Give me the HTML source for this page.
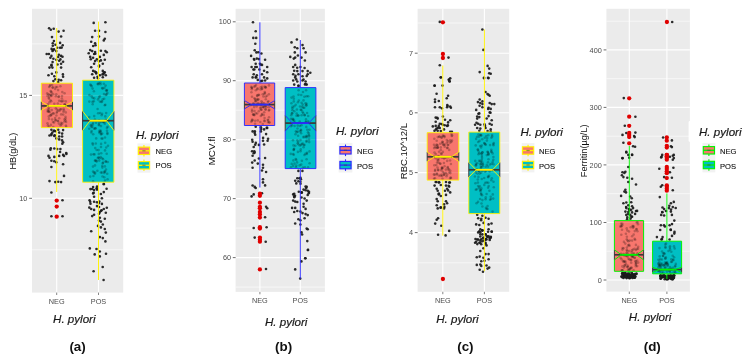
<!DOCTYPE html>
<html><head><meta charset="utf-8"><title>H. pylori boxplots</title>
<style>
html,body{margin:0;padding:0;background:#fff;}
body{width:747px;height:361px;overflow:hidden;font-family:"Liberation Sans",sans-serif;}
svg{display:block;filter:blur(0.35px);}
svg text{font-family:"Liberation Sans",sans-serif;}
.tk{font-size:7.3px;fill:#4d4d4d;}
.lg{font-size:7.6px;fill:#111;stroke:#111;stroke-width:0.12px;}
.yt{fill:#111;}
.xt{font-size:11.6px;font-style:italic;fill:#1a1a1a;stroke:#1a1a1a;stroke-width:0.2px;}
.cap{font-size:13.4px;font-weight:bold;fill:#111;}
</style></head>
<body>
<svg width="747" height="361" viewBox="0 0 747 361">
<rect width="747" height="361" fill="#fff"/>
<rect x="32" y="8.8" width="91.2" height="283.8" fill="#EBEBEB"/>
<line x1="32" x2="123.2" y1="43.9" y2="43.9" stroke="#FFFFFF" stroke-width="0.6"/>
<line x1="32" x2="123.2" y1="146.8" y2="146.8" stroke="#FFFFFF" stroke-width="0.6"/>
<line x1="32" x2="123.2" y1="249.8" y2="249.8" stroke="#FFFFFF" stroke-width="0.6"/>
<line x1="32" x2="123.2" y1="95.4" y2="95.4" stroke="#FFFFFF" stroke-width="1.1"/>
<line x1="32" x2="123.2" y1="198.3" y2="198.3" stroke="#FFFFFF" stroke-width="1.1"/>
<line x1="56.7" x2="56.7" y1="8.8" y2="292.6" stroke="#FFFFFF" stroke-width="1.1"/>
<line x1="98.5" x2="98.5" y1="8.8" y2="292.6" stroke="#FFFFFF" stroke-width="1.1"/>
<line x1="29.2" x2="32" y1="95.4" y2="95.4" stroke="#555" stroke-width="0.85"/>
<text x="27.4" y="98.0" text-anchor="end" class="tk">15</text>
<line x1="29.2" x2="32" y1="198.3" y2="198.3" stroke="#555" stroke-width="0.85"/>
<text x="27.4" y="200.9" text-anchor="end" class="tk">10</text>
<line x1="56.7" x2="56.7" y1="292.6" y2="295.0" stroke="#666" stroke-width="0.8"/>
<text x="56.7" y="303.6" text-anchor="middle" class="tk">NEG</text>
<line x1="98.5" x2="98.5" y1="292.6" y2="295.0" stroke="#666" stroke-width="0.8"/>
<text x="98.5" y="303.6" text-anchor="middle" class="tk">POS</text>
<text transform="translate(15.6,151.2) rotate(-90)" text-anchor="middle" class="yt" style="font-size:9.2px">HB(g/dL)</text>
<text x="74.3" y="322.8" text-anchor="middle" class="xt">H. pylori</text>
<text x="77.6" y="351.1" text-anchor="middle" class="cap">(a)</text>
<g fill="#1a1a1a" fill-opacity="0.92">
<circle cx="49.1" cy="28.3" r="1.3"/><circle cx="50.8" cy="29.7" r="1.3"/><circle cx="53.7" cy="28.7" r="1.3"/><circle cx="58.6" cy="31.6" r="1.3"/><circle cx="63.6" cy="30.7" r="1.3"/><circle cx="52.0" cy="37.1" r="1.3"/><circle cx="61.1" cy="36.5" r="1.3"/><circle cx="53.9" cy="41.0" r="1.3"/><circle cx="60.1" cy="42.9" r="1.3"/><circle cx="62.7" cy="45.2" r="1.3"/><circle cx="52.8" cy="45.8" r="1.3"/><circle cx="57.2" cy="47.8" r="1.3"/><circle cx="60.1" cy="47.8" r="1.3"/><circle cx="53.4" cy="50.1" r="1.3"/><circle cx="56.3" cy="51.1" r="1.3"/><circle cx="48.9" cy="54.0" r="1.3"/><circle cx="51.4" cy="55.9" r="1.3"/><circle cx="61.1" cy="55.9" r="1.3"/><circle cx="58.2" cy="56.9" r="1.3"/><circle cx="50.4" cy="57.8" r="1.3"/><circle cx="53.4" cy="58.8" r="1.3"/><circle cx="56.3" cy="59.8" r="1.3"/><circle cx="59.2" cy="60.8" r="1.3"/><circle cx="63.1" cy="61.7" r="1.3"/><circle cx="61.1" cy="63.7" r="1.3"/><circle cx="51.4" cy="65.6" r="1.3"/><circle cx="49.5" cy="67.6" r="1.3"/><circle cx="52.4" cy="67.6" r="1.3"/><circle cx="61.1" cy="67.6" r="1.3"/><circle cx="56.3" cy="72.4" r="1.3"/><circle cx="48.5" cy="75.3" r="1.3"/><circle cx="54.3" cy="76.3" r="1.3"/><circle cx="63.1" cy="76.7" r="1.3"/><circle cx="55.3" cy="79.2" r="1.3"/><circle cx="53.4" cy="81.1" r="1.3"/><circle cx="61.1" cy="80.2" r="1.3"/><circle cx="58.2" cy="82.1" r="1.3"/><circle cx="93.7" cy="22.9" r="1.3"/><circle cx="105.4" cy="22.3" r="1.3"/><circle cx="95.1" cy="30.7" r="1.3"/><circle cx="99.0" cy="30.7" r="1.3"/><circle cx="105.4" cy="32.0" r="1.3"/><circle cx="92.2" cy="37.1" r="1.3"/><circle cx="99.0" cy="36.5" r="1.3"/><circle cx="104.8" cy="38.8" r="1.3"/><circle cx="103.8" cy="40.4" r="1.3"/><circle cx="91.2" cy="41.7" r="1.3"/><circle cx="95.1" cy="43.3" r="1.3"/><circle cx="95.5" cy="45.2" r="1.3"/><circle cx="90.2" cy="50.1" r="1.3"/><circle cx="92.2" cy="51.1" r="1.3"/><circle cx="95.1" cy="52.0" r="1.3"/><circle cx="100.9" cy="50.7" r="1.3"/><circle cx="105.4" cy="51.1" r="1.3"/><circle cx="94.1" cy="54.0" r="1.3"/><circle cx="103.8" cy="54.9" r="1.3"/><circle cx="90.2" cy="56.9" r="1.3"/><circle cx="93.1" cy="57.8" r="1.3"/><circle cx="99.9" cy="56.9" r="1.3"/><circle cx="95.1" cy="61.1" r="1.3"/><circle cx="100.9" cy="60.4" r="1.3"/><circle cx="104.8" cy="59.8" r="1.3"/><circle cx="94.1" cy="63.7" r="1.3"/><circle cx="102.8" cy="63.7" r="1.3"/><circle cx="91.2" cy="67.2" r="1.3"/><circle cx="99.0" cy="66.6" r="1.3"/><circle cx="93.1" cy="70.9" r="1.3"/><circle cx="96.1" cy="72.4" r="1.3"/><circle cx="102.8" cy="70.9" r="1.3"/><circle cx="104.8" cy="72.4" r="1.3"/><circle cx="92.2" cy="74.3" r="1.3"/><circle cx="99.9" cy="75.3" r="1.3"/><circle cx="105.8" cy="75.3" r="1.3"/><circle cx="94.1" cy="77.8" r="1.3"/><circle cx="98.0" cy="78.2" r="1.3"/><circle cx="102.8" cy="77.3" r="1.3"/><circle cx="51.4" cy="129.7" r="1.3"/><circle cx="54.3" cy="130.7" r="1.3"/><circle cx="58.2" cy="129.7" r="1.3"/><circle cx="63.1" cy="130.1" r="1.3"/><circle cx="52.4" cy="132.6" r="1.3"/><circle cx="59.2" cy="132.6" r="1.3"/><circle cx="62.1" cy="133.6" r="1.3"/><circle cx="49.5" cy="135.5" r="1.3"/><circle cx="51.4" cy="135.1" r="1.3"/><circle cx="54.3" cy="135.9" r="1.3"/><circle cx="59.2" cy="136.5" r="1.3"/><circle cx="62.1" cy="136.5" r="1.3"/><circle cx="56.3" cy="138.4" r="1.3"/><circle cx="59.2" cy="139.4" r="1.3"/><circle cx="62.1" cy="140.4" r="1.3"/><circle cx="63.1" cy="142.3" r="1.3"/><circle cx="50.4" cy="149.7" r="1.3"/><circle cx="57.2" cy="149.1" r="1.3"/><circle cx="60.1" cy="152.0" r="1.3"/><circle cx="48.5" cy="155.9" r="1.3"/><circle cx="49.5" cy="157.8" r="1.3"/><circle cx="54.3" cy="156.9" r="1.3"/><circle cx="59.2" cy="155.9" r="1.3"/><circle cx="63.1" cy="154.9" r="1.3"/><circle cx="64.0" cy="155.9" r="1.3"/><circle cx="51.4" cy="160.8" r="1.3"/><circle cx="54.3" cy="161.3" r="1.3"/><circle cx="56.3" cy="162.3" r="1.3"/><circle cx="63.1" cy="164.3" r="1.3"/><circle cx="51.4" cy="167.0" r="1.3"/><circle cx="64.0" cy="175.9" r="1.3"/><circle cx="49.5" cy="181.1" r="1.3"/><circle cx="55.3" cy="182.1" r="1.3"/><circle cx="58.2" cy="181.7" r="1.3"/><circle cx="61.1" cy="182.1" r="1.3"/><circle cx="51.4" cy="192.5" r="1.3"/><circle cx="62.5" cy="200.2" r="1.3"/><circle cx="51.4" cy="216.3" r="1.3"/><circle cx="62.5" cy="216.3" r="1.3"/><circle cx="103.8" cy="183.7" r="1.3"/><circle cx="93.1" cy="187.0" r="1.3"/><circle cx="97.0" cy="186.6" r="1.3"/><circle cx="92.2" cy="189.0" r="1.3"/><circle cx="94.1" cy="190.1" r="1.3"/><circle cx="97.0" cy="189.6" r="1.3"/><circle cx="103.8" cy="192.1" r="1.3"/><circle cx="100.9" cy="194.0" r="1.3"/><circle cx="93.1" cy="193.4" r="1.3"/><circle cx="94.1" cy="196.7" r="1.3"/><circle cx="101.9" cy="198.3" r="1.3"/><circle cx="89.6" cy="200.2" r="1.3"/><circle cx="90.2" cy="201.8" r="1.3"/><circle cx="94.1" cy="201.8" r="1.3"/><circle cx="97.0" cy="202.2" r="1.3"/><circle cx="99.0" cy="203.1" r="1.3"/><circle cx="89.3" cy="207.6" r="1.3"/><circle cx="91.2" cy="209.0" r="1.3"/><circle cx="94.1" cy="209.9" r="1.3"/><circle cx="97.0" cy="206.1" r="1.3"/><circle cx="99.0" cy="207.0" r="1.3"/><circle cx="103.8" cy="209.0" r="1.3"/><circle cx="100.9" cy="210.9" r="1.3"/><circle cx="105.8" cy="212.8" r="1.3"/><circle cx="99.0" cy="213.8" r="1.3"/><circle cx="94.1" cy="214.8" r="1.3"/><circle cx="92.2" cy="216.1" r="1.3"/><circle cx="99.9" cy="217.7" r="1.3"/><circle cx="104.8" cy="218.7" r="1.3"/><circle cx="99.0" cy="220.6" r="1.3"/><circle cx="100.9" cy="221.6" r="1.3"/><circle cx="102.8" cy="224.5" r="1.3"/><circle cx="98.0" cy="225.9" r="1.3"/><circle cx="100.9" cy="227.4" r="1.3"/><circle cx="104.8" cy="229.0" r="1.3"/><circle cx="91.2" cy="231.3" r="1.3"/><circle cx="105.8" cy="232.6" r="1.3"/><circle cx="99.9" cy="237.1" r="1.3"/><circle cx="102.8" cy="238.1" r="1.3"/><circle cx="105.4" cy="241.4" r="1.3"/><circle cx="106.0" cy="253.7" r="1.3"/><circle cx="94.7" cy="254.4" r="1.3"/><circle cx="99.8" cy="256.4" r="1.3"/><circle cx="102.7" cy="267.0" r="1.3"/><circle cx="93.6" cy="271.2" r="1.3"/><circle cx="103.6" cy="280.0" r="1.3"/><circle cx="89.8" cy="248.4" r="1.3"/><circle cx="96.5" cy="249.0" r="1.3"/><circle cx="99.8" cy="251.5" r="1.3"/><circle cx="61.7" cy="47.6" r="1.3"/><circle cx="52.8" cy="43.3" r="1.3"/><circle cx="52.5" cy="50.9" r="1.3"/><circle cx="55.5" cy="44.7" r="1.3"/><circle cx="51.6" cy="48.9" r="1.3"/><circle cx="54.0" cy="49.2" r="1.3"/><circle cx="46.7" cy="54.0" r="1.3"/><circle cx="62.5" cy="56.8" r="1.3"/><circle cx="58.9" cy="54.7" r="1.3"/><circle cx="52.6" cy="62.1" r="1.3"/><circle cx="60.4" cy="59.4" r="1.3"/><circle cx="57.5" cy="64.5" r="1.3"/><circle cx="51.5" cy="64.9" r="1.3"/><circle cx="51.9" cy="73.8" r="1.3"/><circle cx="62.9" cy="74.4" r="1.3"/><circle cx="58.7" cy="79.8" r="1.3"/><circle cx="93.2" cy="46.0" r="1.3"/><circle cx="88.7" cy="53.3" r="1.3"/><circle cx="95.3" cy="53.8" r="1.3"/><circle cx="106.8" cy="52.3" r="1.3"/><circle cx="90.8" cy="59.2" r="1.3"/><circle cx="96.8" cy="59.4" r="1.3"/><circle cx="99.0" cy="61.3" r="1.3"/><circle cx="99.1" cy="65.6" r="1.3"/><circle cx="94.8" cy="71.6" r="1.3"/><circle cx="103.9" cy="72.6" r="1.3"/><circle cx="96.2" cy="73.4" r="1.3"/><circle cx="103.6" cy="74.1" r="1.3"/><circle cx="97.5" cy="76.7" r="1.3"/><circle cx="102.5" cy="74.4" r="1.3"/><circle cx="55.2" cy="131.3" r="1.3"/><circle cx="53.8" cy="130.7" r="1.3"/><circle cx="51.4" cy="134.1" r="1.3"/><circle cx="54.7" cy="135.4" r="1.3"/><circle cx="62.3" cy="143.8" r="1.3"/><circle cx="50.8" cy="148.2" r="1.3"/><circle cx="54.3" cy="148.5" r="1.3"/><circle cx="60.4" cy="149.1" r="1.3"/><circle cx="66.4" cy="153.9" r="1.3"/><circle cx="66.2" cy="153.1" r="1.3"/><circle cx="103.8" cy="184.2" r="1.3"/><circle cx="96.6" cy="188.3" r="1.3"/><circle cx="90.4" cy="189.1" r="1.3"/><circle cx="93.7" cy="192.7" r="1.3"/><circle cx="106.6" cy="188.7" r="1.3"/><circle cx="101.9" cy="203.9" r="1.3"/><circle cx="99.3" cy="201.6" r="1.3"/><circle cx="90.5" cy="203.7" r="1.3"/><circle cx="99.6" cy="212.4" r="1.3"/><circle cx="106.8" cy="207.8" r="1.3"/><circle cx="101.7" cy="210.3" r="1.3"/>
</g>
<g fill="#e00000">
<circle cx="56.7" cy="200.6" r="2.15"/><circle cx="56.7" cy="206.6" r="2.15"/><circle cx="56.7" cy="216.7" r="2.15"/>
</g>
<line x1="56.7" x2="56.7" y1="28.0" y2="83.2" stroke="#FFF200" stroke-width="0.95"/>
<line x1="56.7" x2="56.7" y1="127.6" y2="192.0" stroke="#FFF200" stroke-width="0.95"/>
<rect x="41.3" y="83.2" width="31.2" height="44.4" fill="#F8766D"/>
<path d="M41.3,101.6 V110.4 M72.5,101.6 V110.4" fill="none" stroke="#3a3a3a" stroke-width="1"/>
<line x1="41.3" x2="72.5" y1="95.4" y2="95.4" stroke="#fff" stroke-opacity="0.12" stroke-width="1.1"/>
<line x1="98.5" x2="98.5" y1="21.6" y2="80.2" stroke="#FFF200" stroke-width="0.95"/>
<line x1="98.5" x2="98.5" y1="182.2" y2="280.0" stroke="#FFF200" stroke-width="0.95"/>
<rect x="82.6" y="80.2" width="31.3" height="102.0" fill="#00BFC4"/>
<path d="M82.6,111.1 V130.5 M113.9,111.1 V130.5" fill="none" stroke="#3a3a3a" stroke-width="1"/>
<line x1="82.6" x2="113.9" y1="95.4" y2="95.4" stroke="#fff" stroke-opacity="0.12" stroke-width="1.1"/>
<g fill="#000" fill-opacity="0.23">
<circle cx="55.8" cy="108.3" r="1.3"/><circle cx="64.8" cy="104.3" r="1.3"/><circle cx="56.8" cy="109.5" r="1.3"/><circle cx="50.7" cy="106.3" r="1.3"/><circle cx="59.2" cy="118.2" r="1.3"/><circle cx="49.0" cy="97.4" r="1.3"/><circle cx="48.9" cy="118.9" r="1.3"/><circle cx="60.4" cy="86.3" r="1.3"/><circle cx="65.9" cy="125.5" r="1.3"/><circle cx="59.6" cy="110.7" r="1.3"/><circle cx="50.2" cy="85.1" r="1.3"/><circle cx="57.2" cy="87.0" r="1.3"/><circle cx="50.8" cy="94.8" r="1.3"/><circle cx="47.8" cy="104.2" r="1.3"/><circle cx="55.6" cy="120.3" r="1.3"/><circle cx="57.1" cy="111.7" r="1.3"/><circle cx="56.7" cy="112.7" r="1.3"/><circle cx="55.9" cy="96.3" r="1.3"/><circle cx="66.2" cy="126.8" r="1.3"/><circle cx="63.2" cy="114.6" r="1.3"/><circle cx="53.2" cy="94.3" r="1.3"/><circle cx="52.7" cy="87.5" r="1.3"/><circle cx="61.8" cy="101.5" r="1.3"/><circle cx="63.3" cy="100.9" r="1.3"/><circle cx="65.4" cy="120.5" r="1.3"/><circle cx="47.2" cy="93.4" r="1.3"/><circle cx="64.5" cy="104.5" r="1.3"/><circle cx="65.8" cy="101.4" r="1.3"/><circle cx="48.6" cy="111.3" r="1.3"/><circle cx="62.0" cy="96.0" r="1.3"/><circle cx="48.9" cy="98.6" r="1.3"/><circle cx="65.5" cy="116.7" r="1.3"/><circle cx="49.4" cy="95.0" r="1.3"/><circle cx="49.1" cy="87.0" r="1.3"/><circle cx="62.3" cy="92.1" r="1.3"/><circle cx="57.8" cy="103.5" r="1.3"/><circle cx="50.8" cy="115.6" r="1.3"/><circle cx="49.7" cy="111.9" r="1.3"/><circle cx="49.4" cy="102.4" r="1.3"/><circle cx="51.2" cy="96.0" r="1.3"/><circle cx="65.6" cy="118.6" r="1.3"/><circle cx="53.0" cy="122.1" r="1.3"/><circle cx="51.2" cy="101.3" r="1.3"/><circle cx="63.4" cy="111.8" r="1.3"/><circle cx="49.1" cy="126.5" r="1.3"/><circle cx="51.3" cy="95.5" r="1.3"/><circle cx="61.9" cy="98.5" r="1.3"/><circle cx="52.8" cy="87.6" r="1.3"/><circle cx="48.9" cy="109.3" r="1.3"/><circle cx="51.8" cy="110.1" r="1.3"/><circle cx="54.3" cy="103.8" r="1.3"/><circle cx="65.4" cy="105.1" r="1.3"/><circle cx="58.1" cy="121.3" r="1.3"/><circle cx="50.7" cy="91.1" r="1.3"/><circle cx="64.5" cy="119.3" r="1.3"/><circle cx="51.9" cy="92.6" r="1.3"/><circle cx="61.2" cy="124.5" r="1.3"/><circle cx="50.9" cy="124.9" r="1.3"/><circle cx="64.0" cy="110.2" r="1.3"/><circle cx="55.2" cy="88.9" r="1.3"/><circle cx="47.9" cy="125.4" r="1.3"/><circle cx="51.7" cy="114.4" r="1.3"/><circle cx="52.1" cy="119.5" r="1.3"/><circle cx="58.5" cy="97.0" r="1.3"/><circle cx="50.5" cy="115.1" r="1.3"/><circle cx="48.5" cy="94.2" r="1.3"/><circle cx="57.8" cy="120.7" r="1.3"/><circle cx="58.9" cy="96.4" r="1.3"/><circle cx="64.6" cy="93.2" r="1.3"/><circle cx="47.5" cy="95.9" r="1.3"/><circle cx="55.7" cy="87.1" r="1.3"/><circle cx="50.5" cy="100.2" r="1.3"/><circle cx="58.1" cy="90.1" r="1.3"/><circle cx="54.1" cy="122.4" r="1.3"/><circle cx="65.8" cy="112.4" r="1.3"/><circle cx="60.3" cy="109.3" r="1.3"/><circle cx="49.9" cy="86.0" r="1.3"/><circle cx="47.5" cy="123.2" r="1.3"/><circle cx="60.5" cy="125.4" r="1.3"/><circle cx="47.6" cy="111.5" r="1.3"/><circle cx="56.4" cy="115.5" r="1.3"/><circle cx="53.3" cy="127.0" r="1.3"/><circle cx="48.6" cy="107.7" r="1.3"/><circle cx="61.2" cy="122.8" r="1.3"/><circle cx="61.2" cy="114.4" r="1.3"/><circle cx="62.3" cy="123.4" r="1.3"/><circle cx="53.9" cy="113.6" r="1.3"/><circle cx="64.3" cy="121.5" r="1.3"/><circle cx="55.1" cy="118.1" r="1.3"/><circle cx="63.6" cy="108.8" r="1.3"/><circle cx="59.1" cy="100.7" r="1.3"/><circle cx="58.3" cy="110.4" r="1.3"/><circle cx="48.7" cy="111.7" r="1.3"/><circle cx="66.1" cy="121.9" r="1.3"/><circle cx="61.0" cy="101.0" r="1.3"/><circle cx="61.2" cy="109.2" r="1.3"/><circle cx="55.6" cy="120.1" r="1.3"/><circle cx="48.8" cy="116.4" r="1.3"/><circle cx="47.8" cy="110.1" r="1.3"/><circle cx="56.3" cy="94.3" r="1.3"/><circle cx="60.5" cy="105.6" r="1.3"/><circle cx="58.9" cy="123.6" r="1.3"/><circle cx="52.1" cy="85.0" r="1.3"/><circle cx="52.9" cy="113.3" r="1.3"/><circle cx="51.0" cy="91.7" r="1.3"/><circle cx="106.2" cy="147.5" r="1.3"/><circle cx="97.4" cy="170.7" r="1.3"/><circle cx="95.2" cy="148.1" r="1.3"/><circle cx="92.8" cy="124.6" r="1.3"/><circle cx="104.3" cy="172.9" r="1.3"/><circle cx="105.7" cy="119.9" r="1.3"/><circle cx="100.1" cy="113.1" r="1.3"/><circle cx="91.6" cy="131.1" r="1.3"/><circle cx="104.9" cy="166.4" r="1.3"/><circle cx="102.5" cy="176.5" r="1.3"/><circle cx="94.3" cy="98.4" r="1.3"/><circle cx="97.6" cy="109.0" r="1.3"/><circle cx="93.1" cy="122.9" r="1.3"/><circle cx="100.9" cy="130.9" r="1.3"/><circle cx="95.0" cy="165.4" r="1.3"/><circle cx="107.7" cy="126.7" r="1.3"/><circle cx="90.4" cy="84.6" r="1.3"/><circle cx="105.6" cy="85.6" r="1.3"/><circle cx="102.5" cy="138.6" r="1.3"/><circle cx="94.9" cy="160.7" r="1.3"/><circle cx="89.4" cy="95.1" r="1.3"/><circle cx="97.6" cy="84.0" r="1.3"/><circle cx="104.8" cy="105.2" r="1.3"/><circle cx="91.7" cy="86.2" r="1.3"/><circle cx="101.0" cy="126.1" r="1.3"/><circle cx="101.0" cy="147.0" r="1.3"/><circle cx="104.3" cy="177.3" r="1.3"/><circle cx="102.0" cy="101.4" r="1.3"/><circle cx="98.0" cy="99.4" r="1.3"/><circle cx="89.2" cy="128.7" r="1.3"/><circle cx="102.6" cy="99.4" r="1.3"/><circle cx="94.2" cy="116.1" r="1.3"/><circle cx="102.2" cy="133.5" r="1.3"/><circle cx="100.7" cy="157.1" r="1.3"/><circle cx="96.5" cy="160.7" r="1.3"/><circle cx="106.2" cy="90.2" r="1.3"/><circle cx="106.7" cy="153.7" r="1.3"/><circle cx="91.5" cy="126.9" r="1.3"/><circle cx="100.9" cy="172.5" r="1.3"/><circle cx="96.2" cy="138.4" r="1.3"/><circle cx="105.7" cy="161.2" r="1.3"/><circle cx="106.9" cy="127.9" r="1.3"/><circle cx="101.4" cy="102.0" r="1.3"/><circle cx="102.7" cy="163.3" r="1.3"/><circle cx="101.2" cy="153.3" r="1.3"/><circle cx="93.1" cy="171.5" r="1.3"/><circle cx="107.6" cy="179.2" r="1.3"/><circle cx="99.2" cy="160.6" r="1.3"/><circle cx="95.1" cy="172.5" r="1.3"/><circle cx="105.3" cy="116.4" r="1.3"/><circle cx="90.6" cy="125.6" r="1.3"/><circle cx="99.5" cy="158.3" r="1.3"/><circle cx="98.3" cy="84.3" r="1.3"/><circle cx="104.4" cy="87.9" r="1.3"/><circle cx="104.2" cy="98.8" r="1.3"/><circle cx="95.4" cy="160.3" r="1.3"/><circle cx="91.7" cy="96.4" r="1.3"/><circle cx="98.8" cy="153.9" r="1.3"/><circle cx="105.0" cy="150.4" r="1.3"/><circle cx="107.0" cy="130.8" r="1.3"/><circle cx="107.0" cy="90.1" r="1.3"/><circle cx="93.2" cy="134.2" r="1.3"/><circle cx="94.5" cy="154.4" r="1.3"/><circle cx="101.1" cy="133.8" r="1.3"/><circle cx="105.0" cy="137.5" r="1.3"/><circle cx="94.9" cy="119.6" r="1.3"/><circle cx="105.1" cy="171.6" r="1.3"/><circle cx="93.0" cy="166.6" r="1.3"/><circle cx="107.4" cy="133.9" r="1.3"/><circle cx="99.9" cy="101.6" r="1.3"/><circle cx="99.2" cy="131.8" r="1.3"/><circle cx="100.5" cy="84.3" r="1.3"/><circle cx="107.4" cy="133.1" r="1.3"/><circle cx="96.6" cy="161.6" r="1.3"/><circle cx="99.7" cy="130.6" r="1.3"/><circle cx="102.1" cy="88.1" r="1.3"/><circle cx="99.2" cy="122.9" r="1.3"/><circle cx="107.2" cy="173.8" r="1.3"/><circle cx="94.1" cy="128.8" r="1.3"/><circle cx="91.4" cy="124.9" r="1.3"/><circle cx="104.5" cy="171.6" r="1.3"/><circle cx="98.1" cy="113.2" r="1.3"/><circle cx="92.6" cy="143.3" r="1.3"/><circle cx="106.6" cy="94.4" r="1.3"/><circle cx="103.8" cy="83.8" r="1.3"/><circle cx="92.7" cy="104.2" r="1.3"/><circle cx="102.1" cy="113.7" r="1.3"/><circle cx="95.8" cy="143.5" r="1.3"/><circle cx="91.0" cy="154.6" r="1.3"/><circle cx="91.3" cy="132.5" r="1.3"/><circle cx="93.8" cy="101.3" r="1.3"/><circle cx="99.1" cy="125.2" r="1.3"/><circle cx="96.1" cy="122.8" r="1.3"/><circle cx="99.1" cy="97.5" r="1.3"/><circle cx="92.9" cy="144.6" r="1.3"/><circle cx="101.1" cy="134.5" r="1.3"/><circle cx="105.2" cy="142.7" r="1.3"/><circle cx="105.3" cy="104.8" r="1.3"/><circle cx="103.1" cy="162.6" r="1.3"/><circle cx="106.2" cy="113.1" r="1.3"/><circle cx="95.0" cy="173.8" r="1.3"/><circle cx="93.1" cy="181.3" r="1.3"/><circle cx="105.9" cy="94.9" r="1.3"/><circle cx="93.5" cy="154.2" r="1.3"/><circle cx="93.9" cy="91.2" r="1.3"/><circle cx="104.8" cy="123.7" r="1.3"/><circle cx="104.0" cy="94.1" r="1.3"/><circle cx="96.7" cy="150.0" r="1.3"/><circle cx="89.3" cy="101.6" r="1.3"/><circle cx="102.0" cy="172.6" r="1.3"/><circle cx="107.4" cy="93.0" r="1.3"/><circle cx="98.6" cy="157.3" r="1.3"/><circle cx="98.6" cy="150.1" r="1.3"/><circle cx="92.6" cy="88.6" r="1.3"/><circle cx="91.0" cy="85.2" r="1.3"/><circle cx="99.5" cy="133.0" r="1.3"/><circle cx="99.8" cy="96.2" r="1.3"/><circle cx="92.5" cy="101.9" r="1.3"/><circle cx="105.0" cy="180.5" r="1.3"/><circle cx="106.6" cy="91.0" r="1.3"/><circle cx="90.2" cy="176.6" r="1.3"/><circle cx="97.8" cy="158.0" r="1.3"/><circle cx="95.2" cy="128.2" r="1.3"/><circle cx="98.8" cy="124.5" r="1.3"/><circle cx="100.4" cy="82.8" r="1.3"/><circle cx="102.3" cy="165.9" r="1.3"/><circle cx="92.4" cy="126.9" r="1.3"/><circle cx="103.0" cy="122.0" r="1.3"/><circle cx="92.7" cy="98.0" r="1.3"/><circle cx="98.7" cy="83.0" r="1.3"/><circle cx="106.0" cy="161.7" r="1.3"/><circle cx="102.4" cy="167.6" r="1.3"/><circle cx="101.0" cy="122.0" r="1.3"/><circle cx="100.4" cy="131.9" r="1.3"/><circle cx="107.7" cy="162.0" r="1.3"/><circle cx="93.9" cy="172.6" r="1.3"/><circle cx="103.1" cy="159.3" r="1.3"/><circle cx="104.5" cy="122.1" r="1.3"/><circle cx="106.0" cy="169.5" r="1.3"/><circle cx="102.2" cy="158.2" r="1.3"/><circle cx="103.5" cy="122.1" r="1.3"/><circle cx="102.7" cy="88.6" r="1.3"/><circle cx="95.5" cy="128.4" r="1.3"/><circle cx="89.2" cy="117.1" r="1.3"/><circle cx="101.1" cy="143.9" r="1.3"/><circle cx="93.4" cy="176.0" r="1.3"/><circle cx="101.7" cy="115.3" r="1.3"/><circle cx="101.5" cy="138.5" r="1.3"/><circle cx="99.1" cy="120.5" r="1.3"/><circle cx="108.0" cy="145.7" r="1.3"/>
</g>
<line x1="41.3" x2="72.5" y1="105.9" y2="105.9" stroke="#3a3a3a" stroke-width="1.7"/>
<path d="M41.3,83.2 L72.5,83.2 L72.5,101.6 L65.2,105.9 L72.5,110.4 L72.5,127.6 L41.3,127.6 L41.3,110.4 L48.6,105.9 L41.3,101.6 Z" fill="none" stroke="#FFF200" stroke-width="0.9" stroke-linejoin="miter"/>
<line x1="48.6" x2="65.2" y1="105.9" y2="105.9" stroke="#FFF200" stroke-width="1.9"/>
<line x1="82.6" x2="113.9" y1="120.7" y2="120.7" stroke="#3a3a3a" stroke-width="1.7"/>
<path d="M82.6,80.2 L113.9,80.2 L113.9,111.1 L106.5,120.7 L113.9,130.5 L113.9,182.2 L82.6,182.2 L82.6,130.5 L90.0,120.7 L82.6,111.1 Z" fill="none" stroke="#FFF200" stroke-width="0.9" stroke-linejoin="miter"/>
<line x1="90.0" x2="106.5" y1="120.7" y2="120.7" stroke="#FFF200" stroke-width="1.9"/>
<text x="136" y="138.7" class="xt">H. pylori</text>
<rect x="137.5" y="143.4" width="12.9" height="29.3" fill="#F2F2F2"/>
<line x1="143.95" x2="143.95" y1="145.0" y2="156.60000000000002" stroke="#FFF200" stroke-width="1.1"/>
<rect x="138.35" y="147.10000000000002" width="11.2" height="7.4" fill="#F8766D" stroke="#FFF200" stroke-width="1.15"/>
<line x1="138.35" x2="149.54999999999998" y1="150.8" y2="150.8" stroke="#FFF200" stroke-width="1.3"/>
<line x1="142.35" x2="145.54999999999998" y1="150.8" y2="150.8" stroke="#444" stroke-opacity="0.55" stroke-width="1.2"/>
<text x="155.6" y="154.1" class="lg">NEG</text>
<line x1="143.95" x2="143.95" y1="159.5" y2="171.10000000000002" stroke="#FFF200" stroke-width="1.1"/>
<rect x="138.35" y="161.60000000000002" width="11.2" height="7.4" fill="#00BFC4" stroke="#FFF200" stroke-width="1.15"/>
<line x1="138.35" x2="149.54999999999998" y1="165.3" y2="165.3" stroke="#FFF200" stroke-width="1.3"/>
<line x1="142.35" x2="145.54999999999998" y1="165.3" y2="165.3" stroke="#444" stroke-opacity="0.55" stroke-width="1.2"/>
<text x="155.6" y="168.3" class="lg">POS</text>
<rect x="235.6" y="8.8" width="89.3" height="283.1" fill="#EBEBEB"/>
<line x1="235.6" x2="324.9" y1="51.2" y2="51.2" stroke="#FFFFFF" stroke-width="0.6"/>
<line x1="235.6" x2="324.9" y1="110.2" y2="110.2" stroke="#FFFFFF" stroke-width="0.6"/>
<line x1="235.6" x2="324.9" y1="169.1" y2="169.1" stroke="#FFFFFF" stroke-width="0.6"/>
<line x1="235.6" x2="324.9" y1="228.1" y2="228.1" stroke="#FFFFFF" stroke-width="0.6"/>
<line x1="235.6" x2="324.9" y1="287.1" y2="287.1" stroke="#FFFFFF" stroke-width="0.6"/>
<line x1="235.6" x2="324.9" y1="21.8" y2="21.8" stroke="#FFFFFF" stroke-width="1.1"/>
<line x1="235.6" x2="324.9" y1="80.7" y2="80.7" stroke="#FFFFFF" stroke-width="1.1"/>
<line x1="235.6" x2="324.9" y1="139.7" y2="139.7" stroke="#FFFFFF" stroke-width="1.1"/>
<line x1="235.6" x2="324.9" y1="198.6" y2="198.6" stroke="#FFFFFF" stroke-width="1.1"/>
<line x1="235.6" x2="324.9" y1="257.6" y2="257.6" stroke="#FFFFFF" stroke-width="1.1"/>
<line x1="259.9" x2="259.9" y1="8.8" y2="291.9" stroke="#FFFFFF" stroke-width="1.1"/>
<line x1="300.3" x2="300.3" y1="8.8" y2="291.9" stroke="#FFFFFF" stroke-width="1.1"/>
<line x1="232.79999999999998" x2="235.6" y1="21.8" y2="21.8" stroke="#555" stroke-width="0.85"/>
<text x="231.0" y="24.400000000000002" text-anchor="end" class="tk">100</text>
<line x1="232.79999999999998" x2="235.6" y1="80.7" y2="80.7" stroke="#555" stroke-width="0.85"/>
<text x="231.0" y="83.3" text-anchor="end" class="tk">90</text>
<line x1="232.79999999999998" x2="235.6" y1="139.7" y2="139.7" stroke="#555" stroke-width="0.85"/>
<text x="231.0" y="142.29999999999998" text-anchor="end" class="tk">80</text>
<line x1="232.79999999999998" x2="235.6" y1="198.6" y2="198.6" stroke="#555" stroke-width="0.85"/>
<text x="231.0" y="201.2" text-anchor="end" class="tk">70</text>
<line x1="232.79999999999998" x2="235.6" y1="257.6" y2="257.6" stroke="#555" stroke-width="0.85"/>
<text x="231.0" y="260.20000000000005" text-anchor="end" class="tk">60</text>
<line x1="259.9" x2="259.9" y1="291.9" y2="294.29999999999995" stroke="#666" stroke-width="0.8"/>
<text x="259.9" y="303.3" text-anchor="middle" class="tk">NEG</text>
<line x1="300.3" x2="300.3" y1="291.9" y2="294.29999999999995" stroke="#666" stroke-width="0.8"/>
<text x="300.3" y="303.3" text-anchor="middle" class="tk">POS</text>
<text transform="translate(214.6,151) rotate(-90)" text-anchor="middle" class="yt" style="font-size:9.9px">MCV.fl</text>
<text x="286.2" y="326.0" text-anchor="middle" class="xt">H. pylori</text>
<text x="283.6" y="351.1" text-anchor="middle" class="cap">(b)</text>
<g fill="#1a1a1a" fill-opacity="0.92">
<circle cx="253.0" cy="22.3" r="1.3"/><circle cx="255.7" cy="31.2" r="1.3"/><circle cx="253.3" cy="37.9" r="1.3"/><circle cx="256.2" cy="37.9" r="1.3"/><circle cx="255.3" cy="43.7" r="1.3"/><circle cx="254.7" cy="50.3" r="1.3"/><circle cx="256.4" cy="52.4" r="1.3"/><circle cx="261.4" cy="53.5" r="1.3"/><circle cx="254.3" cy="59.7" r="1.3"/><circle cx="256.8" cy="58.6" r="1.3"/><circle cx="258.9" cy="59.1" r="1.3"/><circle cx="265.1" cy="59.7" r="1.3"/><circle cx="255.7" cy="63.8" r="1.3"/><circle cx="259.9" cy="63.8" r="1.3"/><circle cx="262.0" cy="64.9" r="1.3"/><circle cx="251.6" cy="67.0" r="1.3"/><circle cx="256.8" cy="67.0" r="1.3"/><circle cx="267.2" cy="67.0" r="1.3"/><circle cx="254.3" cy="69.5" r="1.3"/><circle cx="259.3" cy="69.5" r="1.3"/><circle cx="264.1" cy="70.7" r="1.3"/><circle cx="267.2" cy="72.2" r="1.3"/><circle cx="253.7" cy="74.2" r="1.3"/><circle cx="256.8" cy="75.3" r="1.3"/><circle cx="262.0" cy="74.2" r="1.3"/><circle cx="252.6" cy="77.4" r="1.3"/><circle cx="255.7" cy="77.4" r="1.3"/><circle cx="264.1" cy="77.4" r="1.3"/><circle cx="267.2" cy="78.4" r="1.3"/><circle cx="257.8" cy="79.9" r="1.3"/><circle cx="260.9" cy="81.1" r="1.3"/><circle cx="265.1" cy="80.5" r="1.3"/><circle cx="291.5" cy="42.4" r="1.3"/><circle cx="296.9" cy="39.5" r="1.3"/><circle cx="294.8" cy="47.2" r="1.3"/><circle cx="297.3" cy="48.3" r="1.3"/><circle cx="302.5" cy="45.1" r="1.3"/><circle cx="303.6" cy="48.3" r="1.3"/><circle cx="294.8" cy="52.4" r="1.3"/><circle cx="305.6" cy="52.4" r="1.3"/><circle cx="297.9" cy="55.5" r="1.3"/><circle cx="293.8" cy="58.6" r="1.3"/><circle cx="295.2" cy="57.6" r="1.3"/><circle cx="301.5" cy="57.6" r="1.3"/><circle cx="295.2" cy="64.9" r="1.3"/><circle cx="293.2" cy="67.0" r="1.3"/><circle cx="300.4" cy="67.0" r="1.3"/><circle cx="304.6" cy="68.0" r="1.3"/><circle cx="294.2" cy="70.7" r="1.3"/><circle cx="297.3" cy="71.1" r="1.3"/><circle cx="302.5" cy="71.1" r="1.3"/><circle cx="307.7" cy="71.1" r="1.3"/><circle cx="293.2" cy="74.2" r="1.3"/><circle cx="298.4" cy="74.2" r="1.3"/><circle cx="307.7" cy="74.2" r="1.3"/><circle cx="295.2" cy="77.4" r="1.3"/><circle cx="302.5" cy="76.3" r="1.3"/><circle cx="293.2" cy="80.5" r="1.3"/><circle cx="297.3" cy="81.5" r="1.3"/><circle cx="302.5" cy="80.5" r="1.3"/><circle cx="305.6" cy="81.5" r="1.3"/><circle cx="294.2" cy="84.6" r="1.3"/><circle cx="298.4" cy="85.7" r="1.3"/><circle cx="306.7" cy="84.6" r="1.3"/><circle cx="255.7" cy="126.7" r="1.3"/><circle cx="260.9" cy="127.3" r="1.3"/><circle cx="267.2" cy="127.9" r="1.3"/><circle cx="264.1" cy="129.4" r="1.3"/><circle cx="252.6" cy="131.4" r="1.3"/><circle cx="254.7" cy="132.9" r="1.3"/><circle cx="260.9" cy="131.4" r="1.3"/><circle cx="266.1" cy="134.1" r="1.3"/><circle cx="252.2" cy="139.7" r="1.3"/><circle cx="252.6" cy="141.8" r="1.3"/><circle cx="263.0" cy="140.8" r="1.3"/><circle cx="267.6" cy="140.8" r="1.3"/><circle cx="258.9" cy="144.9" r="1.3"/><circle cx="264.1" cy="144.5" r="1.3"/><circle cx="253.7" cy="147.0" r="1.3"/><circle cx="254.3" cy="151.2" r="1.3"/><circle cx="253.7" cy="153.3" r="1.3"/><circle cx="252.6" cy="155.8" r="1.3"/><circle cx="258.9" cy="158.5" r="1.3"/><circle cx="265.1" cy="158.0" r="1.3"/><circle cx="254.7" cy="160.5" r="1.3"/><circle cx="252.2" cy="162.6" r="1.3"/><circle cx="257.8" cy="163.6" r="1.3"/><circle cx="263.0" cy="164.7" r="1.3"/><circle cx="252.6" cy="167.8" r="1.3"/><circle cx="263.0" cy="167.8" r="1.3"/><circle cx="262.0" cy="170.5" r="1.3"/><circle cx="266.1" cy="172.0" r="1.3"/><circle cx="263.0" cy="179.2" r="1.3"/><circle cx="263.0" cy="182.4" r="1.3"/><circle cx="252.6" cy="185.5" r="1.3"/><circle cx="254.7" cy="186.9" r="1.3"/><circle cx="255.7" cy="188.0" r="1.3"/><circle cx="298.4" cy="170.9" r="1.3"/><circle cx="297.3" cy="178.2" r="1.3"/><circle cx="299.4" cy="178.2" r="1.3"/><circle cx="300.9" cy="179.2" r="1.3"/><circle cx="295.2" cy="180.7" r="1.3"/><circle cx="298.4" cy="181.3" r="1.3"/><circle cx="300.4" cy="181.7" r="1.3"/><circle cx="296.3" cy="183.4" r="1.3"/><circle cx="305.6" cy="186.5" r="1.3"/><circle cx="303.6" cy="189.6" r="1.3"/><circle cx="307.7" cy="190.7" r="1.3"/><circle cx="301.5" cy="192.7" r="1.3"/><circle cx="294.2" cy="193.8" r="1.3"/><circle cx="265.1" cy="185.4" r="1.3"/><circle cx="251.6" cy="196.4" r="1.3"/><circle cx="253.7" cy="194.4" r="1.3"/><circle cx="262.0" cy="193.3" r="1.3"/><circle cx="266.1" cy="206.8" r="1.3"/><circle cx="267.2" cy="208.3" r="1.3"/><circle cx="265.1" cy="217.2" r="1.3"/><circle cx="253.7" cy="228.0" r="1.3"/><circle cx="266.6" cy="227.2" r="1.3"/><circle cx="254.7" cy="237.6" r="1.3"/><circle cx="265.7" cy="241.7" r="1.3"/><circle cx="306.7" cy="186.7" r="1.3"/><circle cx="301.5" cy="192.3" r="1.3"/><circle cx="305.6" cy="190.2" r="1.3"/><circle cx="308.7" cy="193.3" r="1.3"/><circle cx="307.7" cy="195.0" r="1.3"/><circle cx="293.2" cy="194.4" r="1.3"/><circle cx="294.2" cy="196.4" r="1.3"/><circle cx="301.5" cy="197.5" r="1.3"/><circle cx="304.6" cy="198.5" r="1.3"/><circle cx="306.7" cy="200.6" r="1.3"/><circle cx="293.2" cy="200.6" r="1.3"/><circle cx="295.2" cy="201.6" r="1.3"/><circle cx="297.3" cy="202.0" r="1.3"/><circle cx="303.6" cy="203.7" r="1.3"/><circle cx="292.1" cy="207.9" r="1.3"/><circle cx="295.2" cy="207.9" r="1.3"/><circle cx="303.6" cy="206.8" r="1.3"/><circle cx="305.6" cy="208.9" r="1.3"/><circle cx="294.2" cy="212.0" r="1.3"/><circle cx="297.3" cy="211.0" r="1.3"/><circle cx="300.4" cy="211.6" r="1.3"/><circle cx="302.5" cy="213.1" r="1.3"/><circle cx="305.6" cy="214.1" r="1.3"/><circle cx="307.7" cy="215.1" r="1.3"/><circle cx="298.4" cy="219.3" r="1.3"/><circle cx="304.6" cy="218.3" r="1.3"/><circle cx="300.4" cy="220.3" r="1.3"/><circle cx="295.2" cy="223.5" r="1.3"/><circle cx="300.4" cy="224.5" r="1.3"/><circle cx="306.7" cy="228.6" r="1.3"/><circle cx="307.7" cy="229.3" r="1.3"/><circle cx="301.5" cy="232.4" r="1.3"/><circle cx="302.1" cy="234.5" r="1.3"/><circle cx="307.3" cy="241.1" r="1.3"/><circle cx="308.1" cy="249.9" r="1.3"/><circle cx="305.2" cy="258.2" r="1.3"/><circle cx="266.0" cy="269.0" r="1.3"/><circle cx="307.8" cy="250.0" r="1.3"/><circle cx="305.4" cy="258.3" r="1.3"/><circle cx="301.4" cy="261.4" r="1.3"/><circle cx="295.2" cy="269.4" r="1.3"/><circle cx="300.2" cy="278.6" r="1.3"/><circle cx="258.3" cy="52.3" r="1.3"/><circle cx="253.9" cy="59.0" r="1.3"/><circle cx="251.1" cy="55.9" r="1.3"/><circle cx="260.6" cy="64.6" r="1.3"/><circle cx="255.3" cy="67.0" r="1.3"/><circle cx="253.4" cy="69.5" r="1.3"/><circle cx="256.2" cy="77.2" r="1.3"/><circle cx="262.2" cy="80.7" r="1.3"/><circle cx="290.3" cy="56.9" r="1.3"/><circle cx="304.9" cy="60.5" r="1.3"/><circle cx="297.2" cy="67.8" r="1.3"/><circle cx="310.3" cy="72.7" r="1.3"/><circle cx="306.7" cy="76.0" r="1.3"/><circle cx="295.5" cy="75.7" r="1.3"/><circle cx="296.2" cy="79.4" r="1.3"/><circle cx="303.5" cy="79.6" r="1.3"/><circle cx="305.6" cy="84.0" r="1.3"/><circle cx="298.6" cy="85.7" r="1.3"/><circle cx="305.0" cy="84.4" r="1.3"/><circle cx="261.2" cy="129.1" r="1.3"/><circle cx="266.7" cy="127.9" r="1.3"/><circle cx="254.8" cy="131.2" r="1.3"/><circle cx="255.2" cy="134.8" r="1.3"/><circle cx="263.1" cy="137.9" r="1.3"/><circle cx="255.2" cy="144.7" r="1.3"/><circle cx="268.1" cy="138.7" r="1.3"/><circle cx="255.8" cy="142.9" r="1.3"/><circle cx="252.1" cy="151.2" r="1.3"/><circle cx="254.7" cy="152.6" r="1.3"/><circle cx="302.4" cy="170.9" r="1.3"/><circle cx="300.5" cy="177.7" r="1.3"/><circle cx="300.5" cy="183.8" r="1.3"/><circle cx="309.0" cy="191.9" r="1.3"/><circle cx="295.0" cy="195.7" r="1.3"/><circle cx="306.2" cy="188.0" r="1.3"/><circle cx="298.8" cy="191.8" r="1.3"/><circle cx="294.3" cy="197.3" r="1.3"/><circle cx="301.8" cy="192.5" r="1.3"/>
</g>
<g fill="#e00000">
<circle cx="259.9" cy="193.7" r="2.15"/><circle cx="259.9" cy="195.8" r="2.15"/><circle cx="259.9" cy="202.7" r="2.15"/><circle cx="259.9" cy="206.8" r="2.15"/><circle cx="259.9" cy="208.3" r="2.15"/><circle cx="259.9" cy="212.0" r="2.15"/><circle cx="259.9" cy="214.5" r="2.15"/><circle cx="259.9" cy="217.6" r="2.15"/><circle cx="259.9" cy="227.2" r="2.15"/><circle cx="259.9" cy="228.6" r="2.15"/><circle cx="259.9" cy="237.6" r="2.15"/><circle cx="259.9" cy="239.7" r="2.15"/><circle cx="259.9" cy="241.7" r="2.15"/><circle cx="259.9" cy="269.4" r="2.15"/>
</g>
<line x1="259.9" x2="259.9" y1="22.3" y2="83.0" stroke="#2a2aff" stroke-width="0.95"/>
<line x1="259.9" x2="259.9" y1="125.5" y2="187.5" stroke="#2a2aff" stroke-width="0.95"/>
<rect x="244.4" y="83.0" width="30.3" height="42.5" fill="#F8766D"/>
<path d="M244.4,100.6 V108.9 M274.7,100.6 V108.9" fill="none" stroke="#3a3a3a" stroke-width="1"/>
<line x1="300.3" x2="300.3" y1="40.0" y2="87.6" stroke="#2a2aff" stroke-width="0.95"/>
<line x1="300.3" x2="300.3" y1="168.6" y2="278.6" stroke="#2a2aff" stroke-width="0.95"/>
<rect x="285.2" y="87.6" width="30.7" height="81.0" fill="#00BFC4"/>
<path d="M285.2,115.5 V131.1 M315.9,115.5 V131.1" fill="none" stroke="#3a3a3a" stroke-width="1"/>
<line x1="285.2" x2="315.9" y1="139.7" y2="139.7" stroke="#fff" stroke-opacity="0.12" stroke-width="1.1"/>
<g fill="#000" fill-opacity="0.23">
<circle cx="263.7" cy="115.0" r="1.3"/><circle cx="269.0" cy="85.4" r="1.3"/><circle cx="262.1" cy="114.1" r="1.3"/><circle cx="255.3" cy="100.6" r="1.3"/><circle cx="251.4" cy="92.3" r="1.3"/><circle cx="257.5" cy="88.4" r="1.3"/><circle cx="255.2" cy="120.7" r="1.3"/><circle cx="260.9" cy="104.8" r="1.3"/><circle cx="268.8" cy="107.2" r="1.3"/><circle cx="269.3" cy="110.0" r="1.3"/><circle cx="265.8" cy="87.5" r="1.3"/><circle cx="261.8" cy="114.9" r="1.3"/><circle cx="251.3" cy="121.7" r="1.3"/><circle cx="253.4" cy="103.4" r="1.3"/><circle cx="253.6" cy="104.3" r="1.3"/><circle cx="262.0" cy="86.8" r="1.3"/><circle cx="268.4" cy="101.3" r="1.3"/><circle cx="260.4" cy="108.4" r="1.3"/><circle cx="257.3" cy="95.9" r="1.3"/><circle cx="262.8" cy="106.9" r="1.3"/><circle cx="255.8" cy="113.2" r="1.3"/><circle cx="256.0" cy="85.1" r="1.3"/><circle cx="255.1" cy="86.2" r="1.3"/><circle cx="253.4" cy="114.7" r="1.3"/><circle cx="257.8" cy="120.4" r="1.3"/><circle cx="264.6" cy="86.5" r="1.3"/><circle cx="269.2" cy="122.3" r="1.3"/><circle cx="251.8" cy="120.7" r="1.3"/><circle cx="258.6" cy="103.6" r="1.3"/><circle cx="268.9" cy="94.2" r="1.3"/><circle cx="260.3" cy="122.0" r="1.3"/><circle cx="264.1" cy="103.2" r="1.3"/><circle cx="269.0" cy="117.2" r="1.3"/><circle cx="261.9" cy="89.1" r="1.3"/><circle cx="262.3" cy="102.7" r="1.3"/><circle cx="254.3" cy="86.6" r="1.3"/><circle cx="260.4" cy="89.5" r="1.3"/><circle cx="258.8" cy="111.2" r="1.3"/><circle cx="259.1" cy="95.0" r="1.3"/><circle cx="261.5" cy="101.3" r="1.3"/><circle cx="265.2" cy="105.7" r="1.3"/><circle cx="269.4" cy="122.6" r="1.3"/><circle cx="264.4" cy="94.0" r="1.3"/><circle cx="252.6" cy="120.2" r="1.3"/><circle cx="265.3" cy="109.5" r="1.3"/><circle cx="257.2" cy="95.4" r="1.3"/><circle cx="263.4" cy="107.1" r="1.3"/><circle cx="261.6" cy="109.8" r="1.3"/><circle cx="264.7" cy="92.1" r="1.3"/><circle cx="255.1" cy="123.7" r="1.3"/><circle cx="267.8" cy="119.7" r="1.3"/><circle cx="251.2" cy="86.9" r="1.3"/><circle cx="255.5" cy="101.5" r="1.3"/><circle cx="262.2" cy="88.6" r="1.3"/><circle cx="260.7" cy="87.4" r="1.3"/><circle cx="252.0" cy="111.6" r="1.3"/><circle cx="260.9" cy="109.7" r="1.3"/><circle cx="257.5" cy="103.6" r="1.3"/><circle cx="254.4" cy="98.2" r="1.3"/><circle cx="264.6" cy="118.0" r="1.3"/><circle cx="251.8" cy="89.3" r="1.3"/><circle cx="265.8" cy="109.4" r="1.3"/><circle cx="265.0" cy="93.0" r="1.3"/><circle cx="258.5" cy="94.8" r="1.3"/><circle cx="265.8" cy="99.3" r="1.3"/><circle cx="262.8" cy="124.1" r="1.3"/><circle cx="256.6" cy="106.4" r="1.3"/><circle cx="264.6" cy="121.3" r="1.3"/><circle cx="258.5" cy="99.3" r="1.3"/><circle cx="252.2" cy="119.5" r="1.3"/><circle cx="251.9" cy="87.8" r="1.3"/><circle cx="261.1" cy="103.9" r="1.3"/><circle cx="263.4" cy="96.5" r="1.3"/><circle cx="265.1" cy="87.5" r="1.3"/><circle cx="254.5" cy="111.0" r="1.3"/><circle cx="252.0" cy="96.7" r="1.3"/><circle cx="264.2" cy="112.3" r="1.3"/><circle cx="255.8" cy="90.2" r="1.3"/><circle cx="257.2" cy="113.5" r="1.3"/><circle cx="257.4" cy="89.2" r="1.3"/><circle cx="263.9" cy="107.3" r="1.3"/><circle cx="267.9" cy="122.1" r="1.3"/><circle cx="267.8" cy="102.0" r="1.3"/><circle cx="265.7" cy="96.7" r="1.3"/><circle cx="256.4" cy="100.5" r="1.3"/><circle cx="268.2" cy="120.3" r="1.3"/><circle cx="255.1" cy="99.0" r="1.3"/><circle cx="257.3" cy="99.0" r="1.3"/><circle cx="257.9" cy="100.0" r="1.3"/><circle cx="254.1" cy="107.1" r="1.3"/><circle cx="265.5" cy="106.1" r="1.3"/><circle cx="266.3" cy="107.0" r="1.3"/><circle cx="253.8" cy="114.9" r="1.3"/><circle cx="267.1" cy="95.8" r="1.3"/><circle cx="250.8" cy="105.1" r="1.3"/><circle cx="260.7" cy="107.2" r="1.3"/><circle cx="268.8" cy="110.5" r="1.3"/><circle cx="265.7" cy="87.1" r="1.3"/><circle cx="260.8" cy="116.0" r="1.3"/><circle cx="252.0" cy="87.8" r="1.3"/><circle cx="264.4" cy="120.5" r="1.3"/><circle cx="252.0" cy="109.9" r="1.3"/><circle cx="253.1" cy="114.3" r="1.3"/><circle cx="262.7" cy="94.3" r="1.3"/><circle cx="254.6" cy="115.1" r="1.3"/><circle cx="300.7" cy="149.4" r="1.3"/><circle cx="298.3" cy="115.7" r="1.3"/><circle cx="309.2" cy="142.1" r="1.3"/><circle cx="300.2" cy="131.4" r="1.3"/><circle cx="304.5" cy="144.9" r="1.3"/><circle cx="308.2" cy="121.4" r="1.3"/><circle cx="306.5" cy="141.7" r="1.3"/><circle cx="307.0" cy="152.7" r="1.3"/><circle cx="306.6" cy="159.2" r="1.3"/><circle cx="309.0" cy="139.6" r="1.3"/><circle cx="300.8" cy="145.1" r="1.3"/><circle cx="306.0" cy="122.3" r="1.3"/><circle cx="298.8" cy="100.5" r="1.3"/><circle cx="304.9" cy="167.3" r="1.3"/><circle cx="297.9" cy="102.2" r="1.3"/><circle cx="294.7" cy="122.6" r="1.3"/><circle cx="296.3" cy="165.6" r="1.3"/><circle cx="291.9" cy="113.4" r="1.3"/><circle cx="293.0" cy="140.2" r="1.3"/><circle cx="305.5" cy="103.2" r="1.3"/><circle cx="292.0" cy="125.2" r="1.3"/><circle cx="301.9" cy="160.8" r="1.3"/><circle cx="291.5" cy="97.6" r="1.3"/><circle cx="294.3" cy="106.2" r="1.3"/><circle cx="295.3" cy="145.7" r="1.3"/><circle cx="302.1" cy="106.7" r="1.3"/><circle cx="294.3" cy="111.2" r="1.3"/><circle cx="294.1" cy="148.8" r="1.3"/><circle cx="296.7" cy="132.3" r="1.3"/><circle cx="306.3" cy="126.9" r="1.3"/><circle cx="295.7" cy="159.1" r="1.3"/><circle cx="308.2" cy="116.0" r="1.3"/><circle cx="301.2" cy="164.6" r="1.3"/><circle cx="300.0" cy="106.5" r="1.3"/><circle cx="291.7" cy="163.9" r="1.3"/><circle cx="306.0" cy="119.4" r="1.3"/><circle cx="300.8" cy="129.7" r="1.3"/><circle cx="296.0" cy="167.2" r="1.3"/><circle cx="303.3" cy="107.8" r="1.3"/><circle cx="291.0" cy="126.3" r="1.3"/><circle cx="297.9" cy="151.9" r="1.3"/><circle cx="304.4" cy="136.9" r="1.3"/><circle cx="293.8" cy="101.4" r="1.3"/><circle cx="296.9" cy="109.5" r="1.3"/><circle cx="307.3" cy="129.8" r="1.3"/><circle cx="302.9" cy="167.5" r="1.3"/><circle cx="295.9" cy="131.2" r="1.3"/><circle cx="293.7" cy="149.9" r="1.3"/><circle cx="290.8" cy="153.9" r="1.3"/><circle cx="306.9" cy="153.9" r="1.3"/><circle cx="292.4" cy="110.3" r="1.3"/><circle cx="304.4" cy="96.7" r="1.3"/><circle cx="299.9" cy="126.0" r="1.3"/><circle cx="309.0" cy="135.3" r="1.3"/><circle cx="307.1" cy="113.0" r="1.3"/><circle cx="305.8" cy="121.9" r="1.3"/><circle cx="308.2" cy="96.2" r="1.3"/><circle cx="306.5" cy="105.5" r="1.3"/><circle cx="301.1" cy="130.5" r="1.3"/><circle cx="293.8" cy="154.7" r="1.3"/><circle cx="296.7" cy="113.5" r="1.3"/><circle cx="292.2" cy="113.2" r="1.3"/><circle cx="299.7" cy="145.5" r="1.3"/><circle cx="297.6" cy="143.3" r="1.3"/><circle cx="292.8" cy="120.1" r="1.3"/><circle cx="299.6" cy="165.4" r="1.3"/><circle cx="306.6" cy="140.7" r="1.3"/><circle cx="291.0" cy="118.8" r="1.3"/><circle cx="304.3" cy="107.8" r="1.3"/><circle cx="301.5" cy="125.2" r="1.3"/><circle cx="291.0" cy="167.3" r="1.3"/><circle cx="306.0" cy="105.3" r="1.3"/><circle cx="302.5" cy="111.9" r="1.3"/><circle cx="297.9" cy="131.6" r="1.3"/><circle cx="296.5" cy="115.7" r="1.3"/><circle cx="298.3" cy="141.7" r="1.3"/><circle cx="295.7" cy="104.8" r="1.3"/><circle cx="304.7" cy="115.0" r="1.3"/><circle cx="308.8" cy="133.5" r="1.3"/><circle cx="304.6" cy="115.2" r="1.3"/><circle cx="306.5" cy="96.3" r="1.3"/><circle cx="293.5" cy="96.5" r="1.3"/><circle cx="303.7" cy="145.0" r="1.3"/><circle cx="294.2" cy="120.8" r="1.3"/><circle cx="306.7" cy="135.8" r="1.3"/><circle cx="292.5" cy="106.9" r="1.3"/><circle cx="293.8" cy="98.8" r="1.3"/><circle cx="298.5" cy="94.7" r="1.3"/><circle cx="308.3" cy="122.7" r="1.3"/><circle cx="300.5" cy="140.1" r="1.3"/><circle cx="305.4" cy="153.9" r="1.3"/><circle cx="298.1" cy="115.2" r="1.3"/><circle cx="298.6" cy="90.2" r="1.3"/><circle cx="298.4" cy="144.3" r="1.3"/><circle cx="309.5" cy="151.4" r="1.3"/><circle cx="303.3" cy="137.1" r="1.3"/><circle cx="291.2" cy="115.2" r="1.3"/><circle cx="297.3" cy="140.4" r="1.3"/><circle cx="292.8" cy="118.8" r="1.3"/><circle cx="300.5" cy="151.3" r="1.3"/><circle cx="306.5" cy="137.3" r="1.3"/><circle cx="293.8" cy="149.6" r="1.3"/><circle cx="308.0" cy="132.3" r="1.3"/><circle cx="297.5" cy="128.5" r="1.3"/><circle cx="293.5" cy="145.4" r="1.3"/><circle cx="309.5" cy="129.8" r="1.3"/><circle cx="304.4" cy="155.0" r="1.3"/><circle cx="294.5" cy="163.6" r="1.3"/><circle cx="302.7" cy="104.6" r="1.3"/><circle cx="292.4" cy="108.3" r="1.3"/><circle cx="301.8" cy="144.1" r="1.3"/><circle cx="297.1" cy="162.4" r="1.3"/><circle cx="297.7" cy="125.6" r="1.3"/><circle cx="293.2" cy="165.9" r="1.3"/><circle cx="293.4" cy="160.4" r="1.3"/><circle cx="301.1" cy="133.3" r="1.3"/><circle cx="301.4" cy="109.9" r="1.3"/><circle cx="308.1" cy="167.4" r="1.3"/><circle cx="306.3" cy="136.5" r="1.3"/><circle cx="293.1" cy="154.1" r="1.3"/><circle cx="296.3" cy="159.9" r="1.3"/><circle cx="295.4" cy="134.3" r="1.3"/><circle cx="306.6" cy="103.7" r="1.3"/><circle cx="301.2" cy="95.0" r="1.3"/><circle cx="291.4" cy="103.2" r="1.3"/><circle cx="309.6" cy="163.2" r="1.3"/><circle cx="303.3" cy="113.3" r="1.3"/><circle cx="303.6" cy="147.3" r="1.3"/><circle cx="298.1" cy="135.8" r="1.3"/><circle cx="306.1" cy="90.3" r="1.3"/><circle cx="294.6" cy="126.0" r="1.3"/><circle cx="293.5" cy="119.5" r="1.3"/><circle cx="301.6" cy="102.7" r="1.3"/><circle cx="300.7" cy="109.8" r="1.3"/><circle cx="301.6" cy="115.2" r="1.3"/><circle cx="303.0" cy="92.0" r="1.3"/><circle cx="303.5" cy="100.4" r="1.3"/><circle cx="309.0" cy="136.4" r="1.3"/><circle cx="299.7" cy="121.5" r="1.3"/><circle cx="302.7" cy="143.5" r="1.3"/>
</g>
<line x1="244.4" x2="274.7" y1="104.6" y2="104.6" stroke="#3a3a3a" stroke-width="1.7"/>
<path d="M244.4,83.0 L274.7,83.0 L274.7,100.6 L267.6,104.6 L274.7,108.9 L274.7,125.5 L244.4,125.5 L244.4,108.9 L251.5,104.6 L244.4,100.6 Z" fill="none" stroke="#2a2aff" stroke-width="0.95" stroke-linejoin="miter"/>
<line x1="251.5" x2="267.6" y1="104.6" y2="104.6" stroke="#2a2aff" stroke-width="1.9"/>
<line x1="285.2" x2="315.9" y1="123.1" y2="123.1" stroke="#3a3a3a" stroke-width="1.7"/>
<path d="M285.2,87.6 L315.9,87.6 L315.9,115.5 L308.7,123.1 L315.9,131.1 L315.9,168.6 L285.2,168.6 L285.2,131.1 L292.4,123.1 L285.2,115.5 Z" fill="none" stroke="#2a2aff" stroke-width="0.95" stroke-linejoin="miter"/>
<line x1="292.4" x2="308.7" y1="123.1" y2="123.1" stroke="#2a2aff" stroke-width="1.9"/>
<text x="336" y="134.6" class="xt">H. pylori</text>
<rect x="338.6" y="142.9" width="13.8" height="29.6" fill="#F2F2F2"/>
<line x1="345.5" x2="345.5" y1="144.5" y2="156.10000000000002" stroke="#2a2aff" stroke-width="1.1"/>
<rect x="339.9" y="146.60000000000002" width="11.2" height="7.4" fill="#F8766D" stroke="#2a2aff" stroke-width="1.15"/>
<line x1="339.9" x2="351.1" y1="150.3" y2="150.3" stroke="#2a2aff" stroke-width="1.3"/>
<line x1="343.9" x2="347.1" y1="150.3" y2="150.3" stroke="#444" stroke-opacity="0.55" stroke-width="1.2"/>
<text x="357.0" y="153.8" class="lg">NEG</text>
<line x1="345.5" x2="345.5" y1="159.29999999999998" y2="170.9" stroke="#2a2aff" stroke-width="1.1"/>
<rect x="339.9" y="161.4" width="11.2" height="7.4" fill="#00BFC4" stroke="#2a2aff" stroke-width="1.15"/>
<line x1="339.9" x2="351.1" y1="165.1" y2="165.1" stroke="#2a2aff" stroke-width="1.3"/>
<line x1="343.9" x2="347.1" y1="165.1" y2="165.1" stroke="#444" stroke-opacity="0.55" stroke-width="1.2"/>
<text x="357.0" y="168.5" class="lg">POS</text>
<rect x="417.6" y="8.8" width="91.6" height="283.0" fill="#EBEBEB"/>
<line x1="417.6" x2="509.2" y1="23.0" y2="23.0" stroke="#FFFFFF" stroke-width="0.6"/>
<line x1="417.6" x2="509.2" y1="83.0" y2="83.0" stroke="#FFFFFF" stroke-width="0.6"/>
<line x1="417.6" x2="509.2" y1="142.8" y2="142.8" stroke="#FFFFFF" stroke-width="0.6"/>
<line x1="417.6" x2="509.2" y1="202.8" y2="202.8" stroke="#FFFFFF" stroke-width="0.6"/>
<line x1="417.6" x2="509.2" y1="262.8" y2="262.8" stroke="#FFFFFF" stroke-width="0.6"/>
<line x1="417.6" x2="509.2" y1="53.2" y2="53.2" stroke="#FFFFFF" stroke-width="1.1"/>
<line x1="417.6" x2="509.2" y1="112.8" y2="112.8" stroke="#FFFFFF" stroke-width="1.1"/>
<line x1="417.6" x2="509.2" y1="172.6" y2="172.6" stroke="#FFFFFF" stroke-width="1.1"/>
<line x1="417.6" x2="509.2" y1="232.6" y2="232.6" stroke="#FFFFFF" stroke-width="1.1"/>
<line x1="442.8" x2="442.8" y1="8.8" y2="291.8" stroke="#FFFFFF" stroke-width="1.1"/>
<line x1="484.4" x2="484.4" y1="8.8" y2="291.8" stroke="#FFFFFF" stroke-width="1.1"/>
<line x1="414.8" x2="417.6" y1="53.2" y2="53.2" stroke="#555" stroke-width="0.85"/>
<text x="413.0" y="55.800000000000004" text-anchor="end" class="tk">7</text>
<line x1="414.8" x2="417.6" y1="112.8" y2="112.8" stroke="#555" stroke-width="0.85"/>
<text x="413.0" y="115.39999999999999" text-anchor="end" class="tk">6</text>
<line x1="414.8" x2="417.6" y1="172.6" y2="172.6" stroke="#555" stroke-width="0.85"/>
<text x="413.0" y="175.2" text-anchor="end" class="tk">5</text>
<line x1="414.8" x2="417.6" y1="232.6" y2="232.6" stroke="#555" stroke-width="0.85"/>
<text x="413.0" y="235.2" text-anchor="end" class="tk">4</text>
<line x1="442.8" x2="442.8" y1="291.8" y2="294.2" stroke="#666" stroke-width="0.8"/>
<text x="442.8" y="303.4" text-anchor="middle" class="tk">NEG</text>
<line x1="484.4" x2="484.4" y1="291.8" y2="294.2" stroke="#666" stroke-width="0.8"/>
<text x="484.4" y="303.4" text-anchor="middle" class="tk">POS</text>
<text transform="translate(406.8,151.1) rotate(-90)" text-anchor="middle" class="yt" style="font-size:9.5px">RBC.10^12/L</text>
<text x="457.4" y="322.8" text-anchor="middle" class="xt">H. pylori</text>
<text x="465.4" y="351.1" text-anchor="middle" class="cap">(c)</text>
<g fill="#1a1a1a" fill-opacity="0.92">
<circle cx="439.8" cy="21.9" r="1.3"/><circle cx="448.5" cy="57.6" r="1.3"/><circle cx="439.8" cy="65.3" r="1.3"/><circle cx="440.8" cy="77.3" r="1.3"/><circle cx="450.2" cy="78.3" r="1.3"/><circle cx="448.7" cy="79.8" r="1.3"/><circle cx="449.6" cy="81.5" r="1.3"/><circle cx="434.6" cy="85.6" r="1.3"/><circle cx="442.5" cy="85.6" r="1.3"/><circle cx="482.4" cy="29.5" r="1.3"/><circle cx="483.4" cy="49.9" r="1.3"/><circle cx="487.6" cy="65.9" r="1.3"/><circle cx="489.2" cy="68.6" r="1.3"/><circle cx="479.7" cy="72.1" r="1.3"/><circle cx="489.2" cy="73.2" r="1.3"/><circle cx="490.7" cy="73.8" r="1.3"/><circle cx="484.0" cy="77.9" r="1.3"/><circle cx="488.0" cy="77.9" r="1.3"/><circle cx="440.8" cy="77.5" r="1.3"/><circle cx="449.2" cy="79.6" r="1.3"/><circle cx="449.6" cy="81.2" r="1.3"/><circle cx="434.6" cy="85.8" r="1.3"/><circle cx="448.1" cy="95.8" r="1.3"/><circle cx="435.0" cy="99.5" r="1.3"/><circle cx="435.0" cy="102.0" r="1.3"/><circle cx="438.8" cy="101.0" r="1.3"/><circle cx="435.0" cy="107.2" r="1.3"/><circle cx="439.8" cy="107.2" r="1.3"/><circle cx="441.9" cy="108.2" r="1.3"/><circle cx="447.1" cy="107.2" r="1.3"/><circle cx="450.2" cy="106.6" r="1.3"/><circle cx="442.9" cy="116.5" r="1.3"/><circle cx="435.7" cy="117.6" r="1.3"/><circle cx="437.7" cy="118.6" r="1.3"/><circle cx="445.0" cy="119.7" r="1.3"/><circle cx="450.2" cy="120.3" r="1.3"/><circle cx="435.7" cy="121.7" r="1.3"/><circle cx="439.8" cy="123.8" r="1.3"/><circle cx="448.1" cy="122.4" r="1.3"/><circle cx="435.7" cy="125.9" r="1.3"/><circle cx="438.8" cy="125.9" r="1.3"/><circle cx="442.9" cy="124.8" r="1.3"/><circle cx="447.1" cy="125.9" r="1.3"/><circle cx="436.7" cy="128.6" r="1.3"/><circle cx="439.8" cy="128.0" r="1.3"/><circle cx="444.0" cy="129.4" r="1.3"/><circle cx="437.7" cy="130.7" r="1.3"/><circle cx="440.8" cy="131.1" r="1.3"/><circle cx="450.2" cy="131.7" r="1.3"/><circle cx="488.6" cy="78.1" r="1.3"/><circle cx="484.0" cy="78.1" r="1.3"/><circle cx="485.5" cy="92.0" r="1.3"/><circle cx="488.6" cy="94.7" r="1.3"/><circle cx="489.7" cy="95.8" r="1.3"/><circle cx="479.7" cy="99.5" r="1.3"/><circle cx="480.3" cy="103.0" r="1.3"/><circle cx="482.4" cy="104.1" r="1.3"/><circle cx="489.7" cy="103.0" r="1.3"/><circle cx="491.7" cy="104.1" r="1.3"/><circle cx="482.4" cy="107.2" r="1.3"/><circle cx="488.6" cy="107.8" r="1.3"/><circle cx="490.7" cy="108.9" r="1.3"/><circle cx="476.2" cy="109.9" r="1.3"/><circle cx="489.7" cy="112.4" r="1.3"/><circle cx="479.3" cy="113.4" r="1.3"/><circle cx="477.2" cy="116.5" r="1.3"/><circle cx="488.6" cy="116.1" r="1.3"/><circle cx="477.2" cy="118.6" r="1.3"/><circle cx="491.7" cy="120.3" r="1.3"/><circle cx="478.2" cy="123.8" r="1.3"/><circle cx="480.3" cy="124.8" r="1.3"/><circle cx="475.1" cy="124.8" r="1.3"/><circle cx="484.5" cy="124.4" r="1.3"/><circle cx="489.7" cy="123.8" r="1.3"/><circle cx="491.7" cy="124.8" r="1.3"/><circle cx="477.2" cy="128.0" r="1.3"/><circle cx="480.3" cy="128.6" r="1.3"/><circle cx="485.5" cy="128.0" r="1.3"/><circle cx="490.7" cy="129.4" r="1.3"/><circle cx="479.3" cy="130.7" r="1.3"/><circle cx="487.6" cy="131.1" r="1.3"/><circle cx="490.7" cy="131.5" r="1.3"/><circle cx="435.7" cy="182.0" r="1.3"/><circle cx="438.8" cy="182.5" r="1.3"/><circle cx="446.0" cy="182.0" r="1.3"/><circle cx="449.2" cy="182.5" r="1.3"/><circle cx="434.6" cy="185.6" r="1.3"/><circle cx="440.8" cy="185.0" r="1.3"/><circle cx="446.0" cy="185.6" r="1.3"/><circle cx="449.2" cy="186.6" r="1.3"/><circle cx="436.7" cy="188.7" r="1.3"/><circle cx="447.1" cy="188.7" r="1.3"/><circle cx="437.7" cy="190.8" r="1.3"/><circle cx="445.0" cy="190.8" r="1.3"/><circle cx="448.1" cy="190.4" r="1.3"/><circle cx="450.2" cy="192.4" r="1.3"/><circle cx="438.8" cy="194.5" r="1.3"/><circle cx="440.8" cy="196.0" r="1.3"/><circle cx="446.0" cy="194.9" r="1.3"/><circle cx="436.7" cy="199.1" r="1.3"/><circle cx="437.7" cy="201.2" r="1.3"/><circle cx="446.0" cy="201.2" r="1.3"/><circle cx="447.1" cy="203.2" r="1.3"/><circle cx="436.7" cy="205.3" r="1.3"/><circle cx="444.0" cy="204.3" r="1.3"/><circle cx="440.8" cy="207.4" r="1.3"/><circle cx="444.0" cy="208.4" r="1.3"/><circle cx="437.7" cy="208.4" r="1.3"/><circle cx="438.1" cy="218.2" r="1.3"/><circle cx="436.7" cy="219.8" r="1.3"/><circle cx="435.2" cy="223.6" r="1.3"/><circle cx="441.3" cy="225.7" r="1.3"/><circle cx="449.2" cy="230.9" r="1.3"/><circle cx="438.1" cy="234.8" r="1.3"/><circle cx="445.6" cy="235.4" r="1.3"/><circle cx="477.2" cy="214.7" r="1.3"/><circle cx="482.4" cy="215.7" r="1.3"/><circle cx="478.2" cy="218.2" r="1.3"/><circle cx="481.3" cy="218.8" r="1.3"/><circle cx="485.5" cy="217.8" r="1.3"/><circle cx="488.6" cy="218.8" r="1.3"/><circle cx="476.2" cy="224.4" r="1.3"/><circle cx="479.3" cy="225.0" r="1.3"/><circle cx="488.6" cy="224.4" r="1.3"/><circle cx="480.3" cy="229.2" r="1.3"/><circle cx="482.4" cy="230.6" r="1.3"/><circle cx="488.6" cy="229.2" r="1.3"/><circle cx="491.7" cy="231.7" r="1.3"/><circle cx="480.3" cy="232.3" r="1.3"/><circle cx="482.4" cy="234.4" r="1.3"/><circle cx="485.5" cy="234.4" r="1.3"/><circle cx="480.3" cy="236.5" r="1.3"/><circle cx="483.4" cy="237.5" r="1.3"/><circle cx="487.6" cy="236.9" r="1.3"/><circle cx="490.7" cy="237.5" r="1.3"/><circle cx="478.2" cy="239.6" r="1.3"/><circle cx="485.5" cy="239.6" r="1.3"/><circle cx="489.7" cy="238.5" r="1.3"/><circle cx="476.2" cy="241.7" r="1.3"/><circle cx="480.3" cy="242.7" r="1.3"/><circle cx="485.5" cy="242.7" r="1.3"/><circle cx="479.3" cy="231.2" r="1.3"/><circle cx="482.4" cy="230.2" r="1.3"/><circle cx="491.7" cy="231.6" r="1.3"/><circle cx="480.3" cy="234.3" r="1.3"/><circle cx="485.5" cy="234.3" r="1.3"/><circle cx="488.6" cy="236.4" r="1.3"/><circle cx="490.7" cy="237.5" r="1.3"/><circle cx="477.2" cy="239.5" r="1.3"/><circle cx="480.3" cy="240.6" r="1.3"/><circle cx="482.4" cy="241.2" r="1.3"/><circle cx="486.5" cy="239.5" r="1.3"/><circle cx="489.7" cy="240.0" r="1.3"/><circle cx="475.1" cy="242.7" r="1.3"/><circle cx="479.3" cy="242.7" r="1.3"/><circle cx="485.5" cy="243.7" r="1.3"/><circle cx="486.5" cy="245.4" r="1.3"/><circle cx="483.4" cy="248.3" r="1.3"/><circle cx="480.3" cy="251.0" r="1.3"/><circle cx="485.5" cy="254.1" r="1.3"/><circle cx="488.6" cy="254.1" r="1.3"/><circle cx="476.8" cy="257.2" r="1.3"/><circle cx="479.7" cy="256.6" r="1.3"/><circle cx="483.4" cy="257.8" r="1.3"/><circle cx="488.6" cy="259.3" r="1.3"/><circle cx="481.3" cy="261.3" r="1.3"/><circle cx="484.5" cy="260.7" r="1.3"/><circle cx="476.8" cy="264.9" r="1.3"/><circle cx="480.3" cy="264.5" r="1.3"/><circle cx="481.3" cy="265.9" r="1.3"/><circle cx="486.5" cy="265.5" r="1.3"/><circle cx="489.2" cy="267.6" r="1.3"/><circle cx="487.6" cy="268.6" r="1.3"/><circle cx="479.7" cy="269.7" r="1.3"/><circle cx="483.0" cy="271.7" r="1.3"/><circle cx="446.7" cy="98.3" r="1.3"/><circle cx="436.6" cy="93.8" r="1.3"/><circle cx="447.6" cy="106.1" r="1.3"/><circle cx="447.3" cy="105.0" r="1.3"/><circle cx="450.9" cy="107.7" r="1.3"/><circle cx="437.2" cy="117.8" r="1.3"/><circle cx="441.7" cy="124.0" r="1.3"/><circle cx="447.9" cy="125.4" r="1.3"/><circle cx="432.8" cy="126.4" r="1.3"/><circle cx="435.9" cy="129.5" r="1.3"/><circle cx="444.7" cy="125.3" r="1.3"/><circle cx="438.1" cy="127.8" r="1.3"/><circle cx="434.5" cy="130.7" r="1.3"/><circle cx="451.9" cy="131.7" r="1.3"/><circle cx="487.5" cy="94.1" r="1.3"/><circle cx="482.4" cy="101.4" r="1.3"/><circle cx="477.9" cy="102.1" r="1.3"/><circle cx="494.3" cy="104.1" r="1.3"/><circle cx="479.6" cy="105.8" r="1.3"/><circle cx="488.2" cy="108.9" r="1.3"/><circle cx="478.4" cy="113.7" r="1.3"/><circle cx="490.5" cy="112.7" r="1.3"/><circle cx="479.3" cy="117.1" r="1.3"/><circle cx="486.7" cy="118.5" r="1.3"/><circle cx="476.5" cy="122.7" r="1.3"/><circle cx="485.0" cy="125.9" r="1.3"/><circle cx="436.4" cy="182.0" r="1.3"/><circle cx="439.2" cy="182.2" r="1.3"/><circle cx="449.9" cy="182.5" r="1.3"/><circle cx="448.6" cy="185.7" r="1.3"/><circle cx="439.1" cy="193.9" r="1.3"/><circle cx="438.7" cy="193.8" r="1.3"/><circle cx="440.6" cy="207.8" r="1.3"/><circle cx="444.4" cy="206.9" r="1.3"/><circle cx="481.1" cy="220.2" r="1.3"/><circle cx="483.6" cy="222.9" r="1.3"/><circle cx="491.5" cy="223.5" r="1.3"/><circle cx="488.1" cy="231.8" r="1.3"/><circle cx="482.1" cy="230.2" r="1.3"/><circle cx="481.2" cy="239.2" r="1.3"/><circle cx="483.0" cy="238.2" r="1.3"/><circle cx="485.9" cy="239.0" r="1.3"/><circle cx="484.2" cy="240.5" r="1.3"/><circle cx="477.3" cy="244.1" r="1.3"/><circle cx="478.2" cy="232.4" r="1.3"/><circle cx="490.8" cy="236.7" r="1.3"/><circle cx="475.5" cy="239.0" r="1.3"/><circle cx="486.9" cy="236.4" r="1.3"/><circle cx="481.2" cy="244.2" r="1.3"/>
</g>
<g fill="#e00000">
<circle cx="442.9" cy="22.3" r="2.15"/><circle cx="442.9" cy="54.0" r="2.15"/><circle cx="442.9" cy="58.0" r="2.15"/><circle cx="442.9" cy="279.0" r="2.15"/>
</g>
<line x1="442.8" x2="442.8" y1="65.5" y2="132.7" stroke="#FFF200" stroke-width="0.95"/>
<line x1="442.8" x2="442.8" y1="180.1" y2="235.6" stroke="#FFF200" stroke-width="0.95"/>
<rect x="427.2" y="132.7" width="31.6" height="47.4" fill="#F8766D"/>
<path d="M427.2,152.1 V161.4 M458.8,152.1 V161.4" fill="none" stroke="#3a3a3a" stroke-width="1"/>
<line x1="427.2" x2="458.8" y1="172.6" y2="172.6" stroke="#fff" stroke-opacity="0.12" stroke-width="1.1"/>
<line x1="484.4" x2="484.4" y1="29.5" y2="132.1" stroke="#FFF200" stroke-width="0.95"/>
<line x1="484.4" x2="484.4" y1="213.6" y2="271.2" stroke="#FFF200" stroke-width="0.95"/>
<rect x="468.8" y="132.1" width="31.0" height="81.5" fill="#00BFC4"/>
<path d="M468.8,162.4 V177.1 M499.8,162.4 V177.1" fill="none" stroke="#3a3a3a" stroke-width="1"/>
<line x1="468.8" x2="499.8" y1="172.6" y2="172.6" stroke="#fff" stroke-opacity="0.12" stroke-width="1.1"/>
<g fill="#000" fill-opacity="0.23">
<circle cx="447.7" cy="167.8" r="1.3"/><circle cx="442.5" cy="178.8" r="1.3"/><circle cx="449.2" cy="172.5" r="1.3"/><circle cx="441.1" cy="153.5" r="1.3"/><circle cx="444.1" cy="174.7" r="1.3"/><circle cx="443.3" cy="157.6" r="1.3"/><circle cx="441.5" cy="174.7" r="1.3"/><circle cx="439.4" cy="136.5" r="1.3"/><circle cx="447.1" cy="174.5" r="1.3"/><circle cx="447.2" cy="160.9" r="1.3"/><circle cx="447.6" cy="147.7" r="1.3"/><circle cx="444.6" cy="137.1" r="1.3"/><circle cx="435.7" cy="154.1" r="1.3"/><circle cx="442.9" cy="151.9" r="1.3"/><circle cx="434.3" cy="165.3" r="1.3"/><circle cx="443.3" cy="144.8" r="1.3"/><circle cx="439.1" cy="151.8" r="1.3"/><circle cx="437.8" cy="137.1" r="1.3"/><circle cx="450.6" cy="177.5" r="1.3"/><circle cx="445.9" cy="173.0" r="1.3"/><circle cx="441.3" cy="170.2" r="1.3"/><circle cx="437.5" cy="167.6" r="1.3"/><circle cx="444.1" cy="174.7" r="1.3"/><circle cx="435.2" cy="169.7" r="1.3"/><circle cx="435.7" cy="158.2" r="1.3"/><circle cx="451.4" cy="134.0" r="1.3"/><circle cx="437.9" cy="147.5" r="1.3"/><circle cx="439.5" cy="136.8" r="1.3"/><circle cx="450.3" cy="170.7" r="1.3"/><circle cx="440.8" cy="150.0" r="1.3"/><circle cx="444.4" cy="136.1" r="1.3"/><circle cx="433.9" cy="174.4" r="1.3"/><circle cx="439.1" cy="156.4" r="1.3"/><circle cx="451.0" cy="178.0" r="1.3"/><circle cx="442.3" cy="143.3" r="1.3"/><circle cx="438.9" cy="175.5" r="1.3"/><circle cx="450.3" cy="142.8" r="1.3"/><circle cx="449.2" cy="149.9" r="1.3"/><circle cx="442.3" cy="141.7" r="1.3"/><circle cx="450.0" cy="178.8" r="1.3"/><circle cx="437.1" cy="162.5" r="1.3"/><circle cx="436.9" cy="173.6" r="1.3"/><circle cx="434.3" cy="138.8" r="1.3"/><circle cx="447.1" cy="148.1" r="1.3"/><circle cx="450.4" cy="173.1" r="1.3"/><circle cx="446.8" cy="140.1" r="1.3"/><circle cx="446.5" cy="176.2" r="1.3"/><circle cx="441.8" cy="137.6" r="1.3"/><circle cx="437.5" cy="147.8" r="1.3"/><circle cx="446.8" cy="142.8" r="1.3"/><circle cx="436.7" cy="144.6" r="1.3"/><circle cx="445.9" cy="169.6" r="1.3"/><circle cx="440.4" cy="163.8" r="1.3"/><circle cx="450.1" cy="160.5" r="1.3"/><circle cx="437.7" cy="147.5" r="1.3"/><circle cx="450.9" cy="164.0" r="1.3"/><circle cx="438.6" cy="162.8" r="1.3"/><circle cx="435.0" cy="178.2" r="1.3"/><circle cx="441.7" cy="157.8" r="1.3"/><circle cx="443.4" cy="136.0" r="1.3"/><circle cx="444.7" cy="146.8" r="1.3"/><circle cx="438.1" cy="170.1" r="1.3"/><circle cx="435.0" cy="146.8" r="1.3"/><circle cx="447.7" cy="145.1" r="1.3"/><circle cx="438.6" cy="158.7" r="1.3"/><circle cx="436.8" cy="174.4" r="1.3"/><circle cx="452.1" cy="135.5" r="1.3"/><circle cx="442.1" cy="167.8" r="1.3"/><circle cx="440.6" cy="175.8" r="1.3"/><circle cx="442.8" cy="142.1" r="1.3"/><circle cx="443.9" cy="163.0" r="1.3"/><circle cx="440.1" cy="163.6" r="1.3"/><circle cx="448.2" cy="157.3" r="1.3"/><circle cx="442.9" cy="172.0" r="1.3"/><circle cx="446.3" cy="157.4" r="1.3"/><circle cx="451.4" cy="141.8" r="1.3"/><circle cx="448.1" cy="141.4" r="1.3"/><circle cx="444.9" cy="144.6" r="1.3"/><circle cx="441.7" cy="168.8" r="1.3"/><circle cx="448.2" cy="169.6" r="1.3"/><circle cx="437.8" cy="156.0" r="1.3"/><circle cx="437.5" cy="160.1" r="1.3"/><circle cx="442.8" cy="135.6" r="1.3"/><circle cx="444.6" cy="166.2" r="1.3"/><circle cx="444.2" cy="173.3" r="1.3"/><circle cx="436.7" cy="140.8" r="1.3"/><circle cx="433.6" cy="156.3" r="1.3"/><circle cx="441.6" cy="153.9" r="1.3"/><circle cx="438.3" cy="169.9" r="1.3"/><circle cx="434.7" cy="174.8" r="1.3"/><circle cx="444.1" cy="158.4" r="1.3"/><circle cx="448.3" cy="144.7" r="1.3"/><circle cx="436.1" cy="148.0" r="1.3"/><circle cx="434.1" cy="148.1" r="1.3"/><circle cx="445.1" cy="157.6" r="1.3"/><circle cx="438.3" cy="160.5" r="1.3"/><circle cx="435.0" cy="170.9" r="1.3"/><circle cx="436.6" cy="145.5" r="1.3"/><circle cx="436.3" cy="165.1" r="1.3"/><circle cx="449.1" cy="169.4" r="1.3"/><circle cx="434.5" cy="152.5" r="1.3"/><circle cx="440.2" cy="143.7" r="1.3"/><circle cx="451.7" cy="135.9" r="1.3"/><circle cx="442.6" cy="168.3" r="1.3"/><circle cx="452.0" cy="140.5" r="1.3"/><circle cx="442.0" cy="167.5" r="1.3"/><circle cx="434.0" cy="144.8" r="1.3"/><circle cx="450.2" cy="140.4" r="1.3"/><circle cx="440.8" cy="147.4" r="1.3"/><circle cx="441.4" cy="137.4" r="1.3"/><circle cx="434.0" cy="178.8" r="1.3"/><circle cx="447.8" cy="167.0" r="1.3"/><circle cx="437.7" cy="145.4" r="1.3"/><circle cx="443.8" cy="144.9" r="1.3"/><circle cx="442.1" cy="176.0" r="1.3"/><circle cx="481.8" cy="160.1" r="1.3"/><circle cx="493.5" cy="181.8" r="1.3"/><circle cx="475.7" cy="165.3" r="1.3"/><circle cx="487.2" cy="138.1" r="1.3"/><circle cx="481.4" cy="188.4" r="1.3"/><circle cx="491.3" cy="180.2" r="1.3"/><circle cx="491.7" cy="170.0" r="1.3"/><circle cx="482.4" cy="200.1" r="1.3"/><circle cx="482.1" cy="195.2" r="1.3"/><circle cx="479.0" cy="160.9" r="1.3"/><circle cx="478.4" cy="176.9" r="1.3"/><circle cx="478.0" cy="149.6" r="1.3"/><circle cx="479.0" cy="170.4" r="1.3"/><circle cx="480.8" cy="168.8" r="1.3"/><circle cx="493.8" cy="187.2" r="1.3"/><circle cx="491.3" cy="149.7" r="1.3"/><circle cx="482.2" cy="139.2" r="1.3"/><circle cx="488.0" cy="162.2" r="1.3"/><circle cx="480.1" cy="135.0" r="1.3"/><circle cx="478.4" cy="154.2" r="1.3"/><circle cx="482.4" cy="206.5" r="1.3"/><circle cx="488.5" cy="154.7" r="1.3"/><circle cx="481.8" cy="145.6" r="1.3"/><circle cx="492.7" cy="161.9" r="1.3"/><circle cx="489.4" cy="190.7" r="1.3"/><circle cx="492.1" cy="135.1" r="1.3"/><circle cx="481.0" cy="163.9" r="1.3"/><circle cx="476.5" cy="203.2" r="1.3"/><circle cx="481.1" cy="194.4" r="1.3"/><circle cx="484.8" cy="137.8" r="1.3"/><circle cx="482.4" cy="152.3" r="1.3"/><circle cx="475.7" cy="145.4" r="1.3"/><circle cx="486.2" cy="136.0" r="1.3"/><circle cx="480.8" cy="167.0" r="1.3"/><circle cx="485.2" cy="144.2" r="1.3"/><circle cx="488.3" cy="154.1" r="1.3"/><circle cx="488.7" cy="186.1" r="1.3"/><circle cx="477.7" cy="149.7" r="1.3"/><circle cx="480.2" cy="189.8" r="1.3"/><circle cx="482.6" cy="164.0" r="1.3"/><circle cx="491.4" cy="151.4" r="1.3"/><circle cx="480.4" cy="160.8" r="1.3"/><circle cx="479.0" cy="136.7" r="1.3"/><circle cx="475.4" cy="183.3" r="1.3"/><circle cx="485.7" cy="197.4" r="1.3"/><circle cx="493.4" cy="157.0" r="1.3"/><circle cx="487.6" cy="206.1" r="1.3"/><circle cx="479.0" cy="187.9" r="1.3"/><circle cx="487.6" cy="209.0" r="1.3"/><circle cx="491.4" cy="152.0" r="1.3"/><circle cx="486.9" cy="140.6" r="1.3"/><circle cx="483.0" cy="164.5" r="1.3"/><circle cx="476.0" cy="163.8" r="1.3"/><circle cx="481.1" cy="172.8" r="1.3"/><circle cx="480.2" cy="146.0" r="1.3"/><circle cx="482.5" cy="171.0" r="1.3"/><circle cx="478.1" cy="186.1" r="1.3"/><circle cx="479.5" cy="140.9" r="1.3"/><circle cx="481.4" cy="166.9" r="1.3"/><circle cx="477.8" cy="179.5" r="1.3"/><circle cx="488.2" cy="177.2" r="1.3"/><circle cx="488.2" cy="135.3" r="1.3"/><circle cx="482.3" cy="162.3" r="1.3"/><circle cx="476.1" cy="165.4" r="1.3"/><circle cx="475.9" cy="172.6" r="1.3"/><circle cx="486.0" cy="170.5" r="1.3"/><circle cx="481.1" cy="153.5" r="1.3"/><circle cx="475.3" cy="160.9" r="1.3"/><circle cx="491.8" cy="178.2" r="1.3"/><circle cx="479.9" cy="186.3" r="1.3"/><circle cx="478.4" cy="170.6" r="1.3"/><circle cx="486.6" cy="208.9" r="1.3"/><circle cx="481.8" cy="179.0" r="1.3"/><circle cx="492.8" cy="194.4" r="1.3"/><circle cx="486.8" cy="182.5" r="1.3"/><circle cx="482.7" cy="166.3" r="1.3"/><circle cx="480.1" cy="199.0" r="1.3"/><circle cx="491.6" cy="163.7" r="1.3"/><circle cx="492.2" cy="136.5" r="1.3"/><circle cx="477.5" cy="173.6" r="1.3"/><circle cx="480.8" cy="162.0" r="1.3"/><circle cx="493.5" cy="145.3" r="1.3"/><circle cx="478.6" cy="151.6" r="1.3"/><circle cx="487.8" cy="152.0" r="1.3"/><circle cx="474.9" cy="176.5" r="1.3"/><circle cx="482.4" cy="152.4" r="1.3"/><circle cx="484.3" cy="184.9" r="1.3"/><circle cx="485.3" cy="182.8" r="1.3"/><circle cx="485.6" cy="199.2" r="1.3"/><circle cx="493.3" cy="159.8" r="1.3"/><circle cx="481.5" cy="203.5" r="1.3"/><circle cx="480.9" cy="190.1" r="1.3"/><circle cx="488.1" cy="187.7" r="1.3"/><circle cx="493.2" cy="198.6" r="1.3"/><circle cx="477.9" cy="182.6" r="1.3"/><circle cx="484.2" cy="178.0" r="1.3"/><circle cx="481.9" cy="156.1" r="1.3"/><circle cx="489.1" cy="175.7" r="1.3"/><circle cx="479.4" cy="153.2" r="1.3"/><circle cx="481.1" cy="147.5" r="1.3"/><circle cx="484.7" cy="143.5" r="1.3"/><circle cx="476.1" cy="138.9" r="1.3"/><circle cx="476.8" cy="189.2" r="1.3"/><circle cx="477.0" cy="169.2" r="1.3"/><circle cx="489.6" cy="171.5" r="1.3"/><circle cx="478.0" cy="201.9" r="1.3"/><circle cx="491.4" cy="137.7" r="1.3"/><circle cx="479.7" cy="173.6" r="1.3"/><circle cx="490.0" cy="164.5" r="1.3"/><circle cx="488.5" cy="153.4" r="1.3"/><circle cx="488.5" cy="159.3" r="1.3"/><circle cx="481.2" cy="193.5" r="1.3"/><circle cx="490.9" cy="199.0" r="1.3"/><circle cx="485.7" cy="166.7" r="1.3"/><circle cx="488.3" cy="182.7" r="1.3"/><circle cx="490.7" cy="196.8" r="1.3"/><circle cx="477.3" cy="163.3" r="1.3"/><circle cx="487.6" cy="151.8" r="1.3"/><circle cx="478.4" cy="134.6" r="1.3"/><circle cx="486.0" cy="207.8" r="1.3"/><circle cx="493.3" cy="144.1" r="1.3"/><circle cx="488.0" cy="166.6" r="1.3"/><circle cx="486.9" cy="164.8" r="1.3"/><circle cx="492.6" cy="211.6" r="1.3"/><circle cx="475.8" cy="189.8" r="1.3"/><circle cx="477.1" cy="136.8" r="1.3"/><circle cx="480.3" cy="191.3" r="1.3"/><circle cx="493.8" cy="143.0" r="1.3"/><circle cx="481.2" cy="135.6" r="1.3"/><circle cx="485.2" cy="171.7" r="1.3"/><circle cx="482.0" cy="157.9" r="1.3"/><circle cx="490.1" cy="199.8" r="1.3"/><circle cx="480.3" cy="164.4" r="1.3"/><circle cx="486.6" cy="194.0" r="1.3"/><circle cx="493.5" cy="164.3" r="1.3"/><circle cx="488.1" cy="176.6" r="1.3"/><circle cx="490.1" cy="145.1" r="1.3"/><circle cx="478.2" cy="142.0" r="1.3"/><circle cx="492.6" cy="153.4" r="1.3"/><circle cx="484.2" cy="143.0" r="1.3"/><circle cx="481.0" cy="135.0" r="1.3"/><circle cx="485.7" cy="144.8" r="1.3"/><circle cx="486.8" cy="155.1" r="1.3"/><circle cx="479.2" cy="171.6" r="1.3"/><circle cx="481.9" cy="154.0" r="1.3"/>
</g>
<line x1="427.2" x2="458.8" y1="156.8" y2="156.8" stroke="#3a3a3a" stroke-width="1.7"/>
<path d="M427.2,132.7 L458.8,132.7 L458.8,152.1 L451.4,156.8 L458.8,161.4 L458.8,180.1 L427.2,180.1 L427.2,161.4 L434.6,156.8 L427.2,152.1 Z" fill="none" stroke="#FFF200" stroke-width="0.9" stroke-linejoin="miter"/>
<line x1="434.6" x2="451.4" y1="156.8" y2="156.8" stroke="#FFF200" stroke-width="1.9"/>
<line x1="468.8" x2="499.8" y1="169.8" y2="169.8" stroke="#3a3a3a" stroke-width="1.7"/>
<path d="M468.8,132.1 L499.8,132.1 L499.8,162.4 L492.5,169.8 L499.8,177.1 L499.8,213.6 L468.8,213.6 L468.8,177.1 L476.1,169.8 L468.8,162.4 Z" fill="none" stroke="#FFF200" stroke-width="0.9" stroke-linejoin="miter"/>
<line x1="476.1" x2="492.5" y1="169.8" y2="169.8" stroke="#FFF200" stroke-width="1.9"/>
<text x="520.4" y="136" class="xt">H. pylori</text>
<rect x="521.7" y="143.1" width="12.7" height="29.3" fill="#F2F2F2"/>
<line x1="528.05" x2="528.05" y1="144.7" y2="156.3" stroke="#FFF200" stroke-width="1.1"/>
<rect x="522.4499999999999" y="146.8" width="11.2" height="7.4" fill="#F8766D" stroke="#FFF200" stroke-width="1.15"/>
<line x1="522.4499999999999" x2="533.65" y1="150.5" y2="150.5" stroke="#FFF200" stroke-width="1.3"/>
<line x1="526.4499999999999" x2="529.65" y1="150.5" y2="150.5" stroke="#444" stroke-opacity="0.55" stroke-width="1.2"/>
<text x="539.0" y="153.8" class="lg">NEG</text>
<line x1="528.05" x2="528.05" y1="159.2" y2="170.8" stroke="#FFF200" stroke-width="1.1"/>
<rect x="522.4499999999999" y="161.3" width="11.2" height="7.4" fill="#00BFC4" stroke="#FFF200" stroke-width="1.15"/>
<line x1="522.4499999999999" x2="533.65" y1="165.0" y2="165.0" stroke="#FFF200" stroke-width="1.3"/>
<line x1="526.4499999999999" x2="529.65" y1="165.0" y2="165.0" stroke="#444" stroke-opacity="0.55" stroke-width="1.2"/>
<text x="539.0" y="168.5" class="lg">POS</text>
<rect x="606.4" y="8.8" width="83.5" height="282.8" fill="#EBEBEB"/>
<line x1="606.4" x2="689.9" y1="21.2" y2="21.2" stroke="#FFFFFF" stroke-width="0.6"/>
<line x1="606.4" x2="689.9" y1="78.7" y2="78.7" stroke="#FFFFFF" stroke-width="0.6"/>
<line x1="606.4" x2="689.9" y1="136.2" y2="136.2" stroke="#FFFFFF" stroke-width="0.6"/>
<line x1="606.4" x2="689.9" y1="193.7" y2="193.7" stroke="#FFFFFF" stroke-width="0.6"/>
<line x1="606.4" x2="689.9" y1="251.2" y2="251.2" stroke="#FFFFFF" stroke-width="0.6"/>
<line x1="606.4" x2="689.9" y1="49.9" y2="49.9" stroke="#FFFFFF" stroke-width="1.1"/>
<line x1="606.4" x2="689.9" y1="107.4" y2="107.4" stroke="#FFFFFF" stroke-width="1.1"/>
<line x1="606.4" x2="689.9" y1="164.9" y2="164.9" stroke="#FFFFFF" stroke-width="1.1"/>
<line x1="606.4" x2="689.9" y1="222.5" y2="222.5" stroke="#FFFFFF" stroke-width="1.1"/>
<line x1="606.4" x2="689.9" y1="280.0" y2="280.0" stroke="#FFFFFF" stroke-width="1.1"/>
<line x1="629.3" x2="629.3" y1="8.8" y2="291.6" stroke="#FFFFFF" stroke-width="1.1"/>
<line x1="666.9" x2="666.9" y1="8.8" y2="291.6" stroke="#FFFFFF" stroke-width="1.1"/>
<line x1="603.6" x2="606.4" y1="49.9" y2="49.9" stroke="#555" stroke-width="0.85"/>
<text x="601.8" y="52.5" text-anchor="end" class="tk">400</text>
<line x1="603.6" x2="606.4" y1="107.4" y2="107.4" stroke="#555" stroke-width="0.85"/>
<text x="601.8" y="110.0" text-anchor="end" class="tk">300</text>
<line x1="603.6" x2="606.4" y1="164.9" y2="164.9" stroke="#555" stroke-width="0.85"/>
<text x="601.8" y="167.5" text-anchor="end" class="tk">200</text>
<line x1="603.6" x2="606.4" y1="222.5" y2="222.5" stroke="#555" stroke-width="0.85"/>
<text x="601.8" y="225.1" text-anchor="end" class="tk">100</text>
<line x1="603.6" x2="606.4" y1="280.0" y2="280.0" stroke="#555" stroke-width="0.85"/>
<text x="601.8" y="282.6" text-anchor="end" class="tk">0</text>
<line x1="629.3" x2="629.3" y1="291.6" y2="294.0" stroke="#666" stroke-width="0.8"/>
<text x="629.3" y="303.4" text-anchor="middle" class="tk">NEG</text>
<line x1="666.9" x2="666.9" y1="291.6" y2="294.0" stroke="#666" stroke-width="0.8"/>
<text x="666.9" y="303.4" text-anchor="middle" class="tk">POS</text>
<text transform="translate(586.9,150.8) rotate(-90)" text-anchor="middle" class="yt" style="font-size:9.2px">Ferritin(µg/L)</text>
<text x="650.1" y="321.0" text-anchor="middle" class="xt">H. pylori</text>
<text x="652.3" y="351.1" text-anchor="middle" class="cap">(d)</text>
<g fill="#1a1a1a" fill-opacity="0.92">
<circle cx="672.2" cy="22.0" r="1.3"/><circle cx="623.8" cy="98.1" r="1.3"/><circle cx="635.4" cy="116.7" r="1.3"/><circle cx="624.8" cy="125.8" r="1.3"/><circle cx="626.3" cy="133.0" r="1.3"/><circle cx="635.4" cy="132.6" r="1.3"/><circle cx="622.5" cy="134.9" r="1.3"/><circle cx="634.1" cy="136.1" r="1.3"/><circle cx="634.7" cy="137.1" r="1.3"/><circle cx="623.4" cy="142.7" r="1.3"/><circle cx="633.1" cy="146.2" r="1.3"/><circle cx="635.1" cy="146.7" r="1.3"/><circle cx="626.3" cy="152.4" r="1.3"/><circle cx="628.3" cy="154.9" r="1.3"/><circle cx="632.1" cy="154.9" r="1.3"/><circle cx="622.5" cy="158.2" r="1.3"/><circle cx="663.1" cy="137.5" r="1.3"/><circle cx="671.9" cy="140.4" r="1.3"/><circle cx="670.9" cy="146.2" r="1.3"/><circle cx="671.9" cy="147.1" r="1.3"/><circle cx="662.2" cy="154.9" r="1.3"/><circle cx="673.8" cy="154.9" r="1.3"/><circle cx="661.2" cy="157.4" r="1.3"/><circle cx="669.9" cy="156.8" r="1.3"/><circle cx="626.3" cy="151.9" r="1.3"/><circle cx="632.1" cy="154.8" r="1.3"/><circle cx="622.5" cy="158.1" r="1.3"/><circle cx="629.2" cy="157.7" r="1.3"/><circle cx="628.3" cy="167.0" r="1.3"/><circle cx="622.5" cy="172.3" r="1.3"/><circle cx="624.4" cy="172.9" r="1.3"/><circle cx="625.4" cy="171.7" r="1.3"/><circle cx="621.9" cy="175.2" r="1.3"/><circle cx="623.4" cy="177.1" r="1.3"/><circle cx="627.3" cy="177.7" r="1.3"/><circle cx="632.1" cy="178.7" r="1.3"/><circle cx="628.3" cy="182.0" r="1.3"/><circle cx="636.0" cy="184.5" r="1.3"/><circle cx="625.4" cy="189.7" r="1.3"/><circle cx="624.4" cy="191.6" r="1.3"/><circle cx="621.1" cy="195.9" r="1.3"/><circle cx="630.2" cy="196.5" r="1.3"/><circle cx="623.4" cy="203.3" r="1.3"/><circle cx="631.2" cy="202.3" r="1.3"/><circle cx="628.3" cy="205.2" r="1.3"/><circle cx="632.1" cy="206.2" r="1.3"/><circle cx="626.3" cy="208.1" r="1.3"/><circle cx="629.2" cy="209.1" r="1.3"/><circle cx="633.1" cy="208.1" r="1.3"/><circle cx="625.4" cy="211.6" r="1.3"/><circle cx="628.3" cy="212.0" r="1.3"/><circle cx="632.1" cy="212.4" r="1.3"/><circle cx="636.0" cy="211.0" r="1.3"/><circle cx="626.3" cy="214.9" r="1.3"/><circle cx="630.2" cy="214.9" r="1.3"/><circle cx="635.1" cy="213.9" r="1.3"/><circle cx="627.3" cy="217.4" r="1.3"/><circle cx="632.1" cy="216.8" r="1.3"/><circle cx="661.6" cy="156.8" r="1.3"/><circle cx="672.8" cy="155.8" r="1.3"/><circle cx="673.8" cy="158.1" r="1.3"/><circle cx="672.8" cy="159.7" r="1.3"/><circle cx="659.3" cy="168.8" r="1.3"/><circle cx="673.4" cy="167.8" r="1.3"/><circle cx="669.9" cy="172.3" r="1.3"/><circle cx="664.1" cy="177.1" r="1.3"/><circle cx="671.9" cy="177.7" r="1.3"/><circle cx="662.2" cy="185.3" r="1.3"/><circle cx="660.8" cy="186.8" r="1.3"/><circle cx="672.8" cy="190.3" r="1.3"/><circle cx="659.8" cy="197.1" r="1.3"/><circle cx="673.8" cy="201.9" r="1.3"/><circle cx="670.9" cy="203.3" r="1.3"/><circle cx="664.1" cy="209.1" r="1.3"/><circle cx="668.9" cy="208.1" r="1.3"/><circle cx="672.8" cy="207.1" r="1.3"/><circle cx="662.2" cy="212.0" r="1.3"/><circle cx="666.0" cy="211.0" r="1.3"/><circle cx="670.9" cy="211.6" r="1.3"/><circle cx="661.2" cy="214.9" r="1.3"/><circle cx="664.1" cy="215.5" r="1.3"/><circle cx="671.9" cy="214.9" r="1.3"/><circle cx="674.3" cy="220.6" r="1.3"/><circle cx="660.9" cy="225.3" r="1.3"/><circle cx="664.9" cy="226.5" r="1.3"/><circle cx="669.6" cy="225.3" r="1.3"/><circle cx="672.0" cy="224.1" r="1.3"/><circle cx="660.2" cy="230.0" r="1.3"/><circle cx="670.8" cy="230.0" r="1.3"/><circle cx="674.3" cy="233.6" r="1.3"/><circle cx="672.0" cy="235.9" r="1.3"/><circle cx="662.6" cy="237.1" r="1.3"/><circle cx="661.4" cy="239.5" r="1.3"/><circle cx="669.6" cy="239.5" r="1.3"/><circle cx="626.0" cy="192.4" r="1.3"/><circle cx="631.8" cy="198.2" r="1.3"/><circle cx="626.3" cy="202.5" r="1.3"/><circle cx="626.1" cy="207.0" r="1.3"/><circle cx="628.8" cy="209.1" r="1.3"/><circle cx="631.2" cy="209.7" r="1.3"/><circle cx="629.5" cy="210.4" r="1.3"/><circle cx="637.1" cy="210.9" r="1.3"/><circle cx="627.1" cy="219.2" r="1.3"/><circle cx="631.4" cy="216.6" r="1.3"/><circle cx="628.2" cy="214.1" r="1.3"/><circle cx="630.6" cy="218.6" r="1.3"/><circle cx="662.5" cy="207.5" r="1.3"/><circle cx="669.3" cy="205.7" r="1.3"/><circle cx="675.7" cy="208.0" r="1.3"/><circle cx="662.4" cy="212.3" r="1.3"/><circle cx="671.0" cy="209.6" r="1.3"/><circle cx="664.0" cy="225.2" r="1.3"/><circle cx="670.7" cy="229.6" r="1.3"/><circle cx="674.5" cy="231.9" r="1.3"/><circle cx="656.9" cy="237.1" r="1.3"/><circle cx="662.0" cy="239.1" r="1.3"/><circle cx="633.8" cy="277.3" r="1.3"/><circle cx="627.2" cy="276.0" r="1.3"/><circle cx="632.2" cy="276.9" r="1.3"/><circle cx="632.7" cy="275.9" r="1.3"/><circle cx="625.1" cy="276.6" r="1.3"/><circle cx="629.8" cy="275.7" r="1.3"/><circle cx="636.4" cy="273.5" r="1.3"/><circle cx="633.2" cy="274.6" r="1.3"/><circle cx="632.4" cy="277.9" r="1.3"/><circle cx="625.4" cy="275.9" r="1.3"/><circle cx="629.3" cy="275.5" r="1.3"/><circle cx="623.8" cy="276.2" r="1.3"/><circle cx="635.0" cy="276.4" r="1.3"/><circle cx="625.7" cy="277.2" r="1.3"/><circle cx="627.7" cy="273.6" r="1.3"/><circle cx="630.5" cy="275.3" r="1.3"/><circle cx="629.4" cy="278.2" r="1.3"/><circle cx="630.0" cy="277.9" r="1.3"/><circle cx="626.6" cy="276.9" r="1.3"/><circle cx="622.4" cy="274.4" r="1.3"/><circle cx="631.9" cy="276.5" r="1.3"/><circle cx="634.0" cy="274.9" r="1.3"/><circle cx="625.4" cy="274.7" r="1.3"/><circle cx="629.5" cy="272.9" r="1.3"/><circle cx="627.0" cy="276.3" r="1.3"/><circle cx="623.5" cy="274.5" r="1.3"/><circle cx="634.6" cy="277.8" r="1.3"/><circle cx="625.0" cy="273.8" r="1.3"/><circle cx="623.0" cy="273.3" r="1.3"/><circle cx="633.4" cy="276.8" r="1.3"/><circle cx="625.3" cy="275.4" r="1.3"/><circle cx="631.9" cy="273.0" r="1.3"/><circle cx="633.8" cy="277.4" r="1.3"/><circle cx="624.5" cy="276.6" r="1.3"/><circle cx="632.0" cy="274.6" r="1.3"/><circle cx="634.7" cy="274.0" r="1.3"/><circle cx="628.5" cy="274.5" r="1.3"/><circle cx="628.0" cy="277.2" r="1.3"/><circle cx="630.0" cy="276.1" r="1.3"/><circle cx="636.4" cy="274.0" r="1.3"/><circle cx="624.6" cy="276.1" r="1.3"/><circle cx="623.5" cy="278.0" r="1.3"/><circle cx="626.5" cy="275.2" r="1.3"/><circle cx="627.8" cy="277.3" r="1.3"/><circle cx="635.3" cy="276.5" r="1.3"/><circle cx="623.8" cy="274.7" r="1.3"/><circle cx="632.1" cy="274.0" r="1.3"/><circle cx="634.8" cy="277.5" r="1.3"/><circle cx="624.7" cy="274.8" r="1.3"/><circle cx="624.7" cy="276.7" r="1.3"/><circle cx="621.9" cy="276.6" r="1.3"/><circle cx="622.2" cy="277.3" r="1.3"/><circle cx="629.6" cy="275.9" r="1.3"/><circle cx="622.7" cy="273.0" r="1.3"/><circle cx="626.6" cy="278.1" r="1.3"/><circle cx="630.4" cy="277.5" r="1.3"/><circle cx="622.2" cy="273.3" r="1.3"/><circle cx="621.5" cy="276.6" r="1.3"/><circle cx="623.9" cy="274.3" r="1.3"/><circle cx="631.5" cy="276.6" r="1.3"/><circle cx="626.2" cy="275.3" r="1.3"/><circle cx="625.7" cy="275.8" r="1.3"/><circle cx="626.7" cy="274.7" r="1.3"/><circle cx="625.0" cy="274.4" r="1.3"/><circle cx="625.2" cy="272.9" r="1.3"/><circle cx="626.0" cy="276.0" r="1.3"/><circle cx="625.3" cy="273.4" r="1.3"/><circle cx="634.2" cy="275.3" r="1.3"/><circle cx="629.1" cy="274.5" r="1.3"/><circle cx="634.9" cy="276.9" r="1.3"/><circle cx="630.8" cy="276.4" r="1.3"/><circle cx="631.9" cy="275.5" r="1.3"/><circle cx="627.6" cy="274.9" r="1.3"/><circle cx="629.0" cy="275.3" r="1.3"/><circle cx="629.3" cy="275.7" r="1.3"/><circle cx="671.2" cy="278.9" r="1.3"/><circle cx="663.2" cy="275.3" r="1.3"/><circle cx="664.3" cy="275.3" r="1.3"/><circle cx="671.3" cy="277.8" r="1.3"/><circle cx="664.1" cy="276.0" r="1.3"/><circle cx="672.3" cy="278.7" r="1.3"/><circle cx="669.7" cy="278.1" r="1.3"/><circle cx="670.6" cy="277.1" r="1.3"/><circle cx="665.6" cy="277.5" r="1.3"/><circle cx="672.5" cy="279.4" r="1.3"/><circle cx="673.0" cy="278.7" r="1.3"/><circle cx="661.1" cy="276.2" r="1.3"/><circle cx="673.8" cy="277.5" r="1.3"/><circle cx="667.3" cy="276.5" r="1.3"/><circle cx="672.2" cy="277.4" r="1.3"/><circle cx="674.1" cy="275.5" r="1.3"/><circle cx="674.1" cy="275.3" r="1.3"/><circle cx="662.1" cy="276.8" r="1.3"/><circle cx="669.1" cy="275.7" r="1.3"/><circle cx="668.0" cy="279.1" r="1.3"/><circle cx="666.2" cy="278.4" r="1.3"/><circle cx="668.4" cy="277.6" r="1.3"/><circle cx="662.5" cy="277.1" r="1.3"/><circle cx="672.8" cy="278.0" r="1.3"/><circle cx="663.1" cy="277.1" r="1.3"/><circle cx="667.7" cy="276.6" r="1.3"/><circle cx="668.2" cy="277.9" r="1.3"/><circle cx="660.3" cy="276.1" r="1.3"/><circle cx="669.3" cy="276.1" r="1.3"/><circle cx="661.0" cy="278.4" r="1.3"/><circle cx="664.7" cy="279.2" r="1.3"/><circle cx="667.9" cy="275.6" r="1.3"/><circle cx="669.0" cy="276.3" r="1.3"/><circle cx="671.6" cy="278.2" r="1.3"/><circle cx="670.8" cy="275.4" r="1.3"/><circle cx="660.5" cy="278.6" r="1.3"/><circle cx="662.0" cy="276.0" r="1.3"/><circle cx="660.4" cy="275.9" r="1.3"/><circle cx="666.7" cy="279.2" r="1.3"/><circle cx="664.6" cy="276.3" r="1.3"/><circle cx="671.8" cy="276.0" r="1.3"/><circle cx="669.0" cy="277.8" r="1.3"/><circle cx="673.3" cy="275.4" r="1.3"/><circle cx="668.0" cy="276.8" r="1.3"/><circle cx="671.7" cy="276.3" r="1.3"/><circle cx="670.2" cy="276.0" r="1.3"/><circle cx="667.0" cy="279.3" r="1.3"/><circle cx="663.4" cy="276.4" r="1.3"/><circle cx="673.0" cy="278.0" r="1.3"/><circle cx="660.9" cy="276.0" r="1.3"/><circle cx="663.4" cy="276.4" r="1.3"/><circle cx="672.0" cy="278.1" r="1.3"/><circle cx="673.9" cy="278.0" r="1.3"/><circle cx="668.9" cy="276.8" r="1.3"/><circle cx="670.2" cy="277.3" r="1.3"/><circle cx="660.8" cy="277.3" r="1.3"/><circle cx="665.5" cy="277.4" r="1.3"/><circle cx="660.7" cy="275.3" r="1.3"/><circle cx="674.0" cy="276.8" r="1.3"/><circle cx="664.7" cy="275.8" r="1.3"/>
</g>
<g fill="#e00000">
<circle cx="629.2" cy="98.3" r="2.15"/><circle cx="629.2" cy="116.7" r="2.15"/><circle cx="629.2" cy="125.8" r="2.15"/><circle cx="629.2" cy="133.0" r="2.15"/><circle cx="629.2" cy="134.9" r="2.15"/><circle cx="629.2" cy="137.1" r="2.15"/><circle cx="629.2" cy="143.3" r="2.15"/><circle cx="666.8" cy="137.5" r="2.15"/><circle cx="666.8" cy="140.7" r="2.15"/><circle cx="666.8" cy="145.8" r="2.15"/><circle cx="666.8" cy="147.5" r="2.15"/><circle cx="666.8" cy="154.9" r="2.15"/><circle cx="666.8" cy="156.8" r="2.15"/><circle cx="666.8" cy="154.8" r="2.15"/><circle cx="666.8" cy="156.4" r="2.15"/><circle cx="666.8" cy="158.1" r="2.15"/><circle cx="666.8" cy="159.7" r="2.15"/><circle cx="666.8" cy="167.0" r="2.15"/><circle cx="666.8" cy="169.0" r="2.15"/><circle cx="666.8" cy="171.3" r="2.15"/><circle cx="666.8" cy="173.2" r="2.15"/><circle cx="666.8" cy="178.1" r="2.15"/><circle cx="666.8" cy="185.3" r="2.15"/><circle cx="666.8" cy="186.8" r="2.15"/><circle cx="666.8" cy="188.7" r="2.15"/><circle cx="666.8" cy="190.7" r="2.15"/><circle cx="666.9" cy="22.0" r="2.15"/>
</g>
<line x1="629.3" x2="629.3" y1="146.0" y2="220.6" stroke="#00F400" stroke-width="0.95"/>
<line x1="629.3" x2="629.3" y1="271.3" y2="273.0" stroke="#00F400" stroke-width="0.95"/>
<rect x="614.4" y="220.6" width="29.2" height="50.7" fill="#F8766D"/>
<path d="M614.4,249.8 V259.9 M643.6,249.8 V259.9" fill="none" stroke="#3a3a3a" stroke-width="1"/>
<line x1="614.4" x2="643.6" y1="222.5" y2="222.5" stroke="#fff" stroke-opacity="0.12" stroke-width="1.1"/>
<line x1="666.9" x2="666.9" y1="193.4" y2="241.2" stroke="#00F400" stroke-width="0.95"/>
<line x1="666.9" x2="666.9" y1="273.8" y2="279.0" stroke="#00F400" stroke-width="0.95"/>
<rect x="652.6" y="241.2" width="29.0" height="32.6" fill="#00BFC4"/>
<path d="M652.6,267.3 V272.4 M681.6,267.3 V272.4" fill="none" stroke="#3a3a3a" stroke-width="1"/>
<g fill="#000" fill-opacity="0.23">
<circle cx="621.2" cy="223.5" r="1.3"/><circle cx="636.4" cy="229.1" r="1.3"/><circle cx="621.7" cy="226.2" r="1.3"/><circle cx="629.0" cy="244.9" r="1.3"/><circle cx="623.9" cy="241.9" r="1.3"/><circle cx="629.0" cy="231.5" r="1.3"/><circle cx="634.8" cy="231.1" r="1.3"/><circle cx="621.3" cy="234.7" r="1.3"/><circle cx="632.1" cy="236.3" r="1.3"/><circle cx="625.3" cy="243.6" r="1.3"/><circle cx="635.9" cy="244.9" r="1.3"/><circle cx="628.3" cy="241.2" r="1.3"/><circle cx="633.3" cy="226.0" r="1.3"/><circle cx="620.8" cy="225.9" r="1.3"/><circle cx="622.4" cy="223.7" r="1.3"/><circle cx="626.8" cy="239.3" r="1.3"/><circle cx="625.9" cy="233.8" r="1.3"/><circle cx="620.5" cy="226.8" r="1.3"/><circle cx="637.6" cy="222.3" r="1.3"/><circle cx="629.8" cy="240.6" r="1.3"/><circle cx="634.6" cy="238.9" r="1.3"/><circle cx="627.5" cy="240.5" r="1.3"/><circle cx="635.2" cy="239.7" r="1.3"/><circle cx="638.0" cy="224.3" r="1.3"/><circle cx="637.4" cy="231.3" r="1.3"/><circle cx="633.0" cy="227.8" r="1.3"/><circle cx="636.7" cy="222.5" r="1.3"/><circle cx="630.7" cy="227.2" r="1.3"/><circle cx="627.3" cy="230.5" r="1.3"/><circle cx="632.1" cy="240.6" r="1.3"/><circle cx="626.9" cy="236.7" r="1.3"/><circle cx="626.7" cy="228.4" r="1.3"/><circle cx="636.6" cy="229.4" r="1.3"/><circle cx="622.0" cy="229.7" r="1.3"/><circle cx="633.6" cy="226.9" r="1.3"/><circle cx="633.7" cy="234.6" r="1.3"/><circle cx="632.5" cy="226.1" r="1.3"/><circle cx="622.2" cy="225.3" r="1.3"/><circle cx="626.6" cy="256.0" r="1.3"/><circle cx="620.5" cy="257.8" r="1.3"/><circle cx="627.6" cy="253.2" r="1.3"/><circle cx="630.0" cy="269.3" r="1.3"/><circle cx="624.0" cy="267.5" r="1.3"/><circle cx="626.1" cy="264.2" r="1.3"/><circle cx="622.3" cy="270.2" r="1.3"/><circle cx="628.0" cy="269.5" r="1.3"/><circle cx="624.3" cy="255.4" r="1.3"/><circle cx="633.0" cy="249.5" r="1.3"/><circle cx="625.2" cy="262.3" r="1.3"/><circle cx="637.4" cy="253.2" r="1.3"/><circle cx="623.6" cy="254.1" r="1.3"/><circle cx="638.1" cy="248.8" r="1.3"/><circle cx="631.7" cy="254.6" r="1.3"/><circle cx="631.9" cy="250.4" r="1.3"/><circle cx="631.4" cy="267.6" r="1.3"/><circle cx="635.7" cy="261.0" r="1.3"/><circle cx="629.4" cy="259.5" r="1.3"/><circle cx="622.4" cy="266.4" r="1.3"/><circle cx="632.7" cy="256.6" r="1.3"/><circle cx="632.3" cy="255.7" r="1.3"/><circle cx="627.2" cy="250.9" r="1.3"/><circle cx="631.1" cy="259.6" r="1.3"/><circle cx="629.6" cy="245.8" r="1.3"/><circle cx="631.6" cy="256.4" r="1.3"/><circle cx="631.0" cy="260.2" r="1.3"/><circle cx="637.1" cy="248.9" r="1.3"/><circle cx="628.7" cy="270.3" r="1.3"/><circle cx="633.6" cy="253.0" r="1.3"/><circle cx="633.6" cy="270.2" r="1.3"/><circle cx="627.5" cy="267.1" r="1.3"/><circle cx="622.6" cy="270.2" r="1.3"/><circle cx="629.1" cy="251.0" r="1.3"/><circle cx="635.4" cy="261.6" r="1.3"/><circle cx="637.2" cy="266.1" r="1.3"/><circle cx="634.7" cy="258.0" r="1.3"/><circle cx="638.2" cy="246.7" r="1.3"/><circle cx="636.0" cy="263.1" r="1.3"/><circle cx="624.8" cy="265.6" r="1.3"/><circle cx="628.5" cy="258.7" r="1.3"/><circle cx="635.9" cy="250.0" r="1.3"/><circle cx="625.3" cy="261.4" r="1.3"/><circle cx="621.6" cy="259.2" r="1.3"/><circle cx="634.5" cy="257.5" r="1.3"/><circle cx="624.7" cy="265.4" r="1.3"/><circle cx="635.7" cy="264.7" r="1.3"/><circle cx="630.2" cy="268.1" r="1.3"/><circle cx="634.6" cy="248.9" r="1.3"/><circle cx="626.9" cy="247.6" r="1.3"/><circle cx="621.0" cy="253.8" r="1.3"/><circle cx="635.9" cy="266.3" r="1.3"/><circle cx="622.4" cy="249.6" r="1.3"/><circle cx="627.3" cy="266.7" r="1.3"/><circle cx="631.4" cy="268.0" r="1.3"/><circle cx="621.6" cy="270.2" r="1.3"/><circle cx="624.0" cy="261.0" r="1.3"/><circle cx="636.1" cy="263.6" r="1.3"/><circle cx="623.8" cy="262.0" r="1.3"/><circle cx="628.1" cy="245.4" r="1.3"/><circle cx="626.4" cy="253.0" r="1.3"/><circle cx="631.6" cy="252.1" r="1.3"/><circle cx="631.2" cy="262.7" r="1.3"/><circle cx="623.6" cy="248.3" r="1.3"/><circle cx="632.8" cy="256.9" r="1.3"/><circle cx="622.6" cy="248.0" r="1.3"/><circle cx="637.2" cy="260.6" r="1.3"/><circle cx="626.7" cy="250.0" r="1.3"/><circle cx="638.2" cy="262.6" r="1.3"/><circle cx="633.6" cy="254.2" r="1.3"/><circle cx="625.9" cy="255.4" r="1.3"/><circle cx="622.9" cy="261.1" r="1.3"/><circle cx="627.9" cy="265.9" r="1.3"/><circle cx="627.7" cy="256.6" r="1.3"/><circle cx="629.4" cy="269.0" r="1.3"/><circle cx="664.1" cy="253.4" r="1.3"/><circle cx="662.1" cy="251.5" r="1.3"/><circle cx="663.0" cy="256.0" r="1.3"/><circle cx="663.1" cy="255.7" r="1.3"/><circle cx="670.1" cy="249.6" r="1.3"/><circle cx="674.7" cy="248.5" r="1.3"/><circle cx="671.3" cy="251.8" r="1.3"/><circle cx="666.0" cy="243.5" r="1.3"/><circle cx="665.4" cy="246.9" r="1.3"/><circle cx="665.8" cy="257.3" r="1.3"/><circle cx="663.2" cy="253.3" r="1.3"/><circle cx="670.0" cy="246.3" r="1.3"/><circle cx="665.3" cy="244.5" r="1.3"/><circle cx="674.0" cy="246.4" r="1.3"/><circle cx="665.5" cy="247.8" r="1.3"/><circle cx="672.7" cy="255.7" r="1.3"/><circle cx="668.5" cy="251.0" r="1.3"/><circle cx="659.7" cy="256.4" r="1.3"/><circle cx="659.5" cy="248.1" r="1.3"/><circle cx="664.6" cy="253.7" r="1.3"/><circle cx="669.9" cy="247.8" r="1.3"/><circle cx="674.1" cy="257.2" r="1.3"/><circle cx="658.3" cy="267.5" r="1.3"/><circle cx="666.3" cy="263.4" r="1.3"/><circle cx="666.3" cy="262.7" r="1.3"/><circle cx="670.0" cy="267.1" r="1.3"/><circle cx="675.4" cy="272.6" r="1.3"/><circle cx="675.8" cy="263.9" r="1.3"/><circle cx="672.8" cy="267.7" r="1.3"/><circle cx="670.5" cy="273.0" r="1.3"/><circle cx="659.1" cy="264.9" r="1.3"/><circle cx="665.1" cy="267.8" r="1.3"/><circle cx="661.8" cy="272.8" r="1.3"/><circle cx="661.7" cy="263.5" r="1.3"/><circle cx="660.5" cy="263.9" r="1.3"/><circle cx="671.3" cy="259.3" r="1.3"/><circle cx="660.9" cy="267.7" r="1.3"/><circle cx="669.1" cy="269.1" r="1.3"/><circle cx="662.5" cy="270.2" r="1.3"/><circle cx="671.1" cy="269.6" r="1.3"/><circle cx="660.1" cy="265.0" r="1.3"/><circle cx="658.2" cy="270.9" r="1.3"/><circle cx="674.9" cy="271.4" r="1.3"/><circle cx="658.3" cy="263.3" r="1.3"/><circle cx="667.5" cy="266.0" r="1.3"/><circle cx="659.9" cy="269.8" r="1.3"/><circle cx="663.3" cy="265.6" r="1.3"/><circle cx="660.1" cy="266.5" r="1.3"/><circle cx="660.2" cy="259.3" r="1.3"/><circle cx="667.1" cy="262.4" r="1.3"/><circle cx="671.9" cy="261.7" r="1.3"/><circle cx="665.4" cy="258.8" r="1.3"/><circle cx="661.8" cy="264.8" r="1.3"/><circle cx="667.9" cy="264.9" r="1.3"/><circle cx="673.2" cy="259.6" r="1.3"/><circle cx="673.2" cy="260.3" r="1.3"/><circle cx="675.4" cy="265.9" r="1.3"/><circle cx="665.2" cy="267.2" r="1.3"/><circle cx="673.4" cy="272.5" r="1.3"/><circle cx="665.3" cy="258.2" r="1.3"/><circle cx="660.7" cy="270.3" r="1.3"/><circle cx="671.1" cy="268.7" r="1.3"/><circle cx="660.7" cy="266.0" r="1.3"/><circle cx="658.4" cy="259.7" r="1.3"/><circle cx="663.3" cy="272.5" r="1.3"/><circle cx="669.5" cy="270.7" r="1.3"/><circle cx="658.7" cy="264.2" r="1.3"/><circle cx="659.3" cy="261.9" r="1.3"/><circle cx="659.9" cy="271.8" r="1.3"/><circle cx="663.8" cy="265.3" r="1.3"/><circle cx="669.7" cy="271.3" r="1.3"/><circle cx="674.9" cy="266.5" r="1.3"/><circle cx="666.9" cy="271.6" r="1.3"/><circle cx="665.0" cy="262.5" r="1.3"/><circle cx="671.2" cy="261.9" r="1.3"/><circle cx="664.5" cy="264.4" r="1.3"/><circle cx="666.5" cy="263.4" r="1.3"/><circle cx="665.6" cy="264.8" r="1.3"/><circle cx="658.8" cy="270.5" r="1.3"/><circle cx="659.0" cy="265.9" r="1.3"/><circle cx="667.8" cy="264.0" r="1.3"/><circle cx="661.9" cy="259.5" r="1.3"/>
</g>
<line x1="614.4" x2="643.6" y1="254.8" y2="254.8" stroke="#3a3a3a" stroke-width="1.7"/>
<path d="M614.4,220.6 L643.6,220.6 L643.6,249.8 L636.7,254.8 L643.6,259.9 L643.6,271.3 L614.4,271.3 L614.4,259.9 L621.3,254.8 L614.4,249.8 Z" fill="none" stroke="#00F400" stroke-width="1.0" stroke-linejoin="miter"/>
<line x1="621.3" x2="636.7" y1="254.8" y2="254.8" stroke="#00F400" stroke-width="1.9"/>
<line x1="652.6" x2="681.6" y1="269.6" y2="269.6" stroke="#3a3a3a" stroke-width="1.7"/>
<path d="M652.6,241.2 L681.6,241.2 L681.6,267.3 L674.8,269.6 L681.6,272.4 L681.6,273.8 L652.6,273.8 L652.6,272.4 L659.4,269.6 L652.6,267.3 Z" fill="none" stroke="#00F400" stroke-width="1.0" stroke-linejoin="miter"/>
<line x1="659.4" x2="674.8" y1="269.6" y2="269.6" stroke="#00F400" stroke-width="1.9"/>
<rect x="688.6" y="121" width="12" height="20.7" rx="1" fill="#fff"/>
<text x="699" y="136" class="xt">H. pylori</text>
<rect x="702.5" y="142.9" width="12.8" height="29.5" fill="#F2F2F2"/>
<line x1="708.9" x2="708.9" y1="144.5" y2="156.10000000000002" stroke="#00F400" stroke-width="1.1"/>
<rect x="703.3" y="146.60000000000002" width="11.2" height="7.4" fill="#F8766D" stroke="#00F400" stroke-width="1.15"/>
<line x1="703.3" x2="714.5" y1="150.3" y2="150.3" stroke="#00F400" stroke-width="1.3"/>
<line x1="707.3" x2="710.5" y1="150.3" y2="150.3" stroke="#444" stroke-opacity="0.55" stroke-width="1.2"/>
<text x="720.0" y="153.8" class="lg">NEG</text>
<line x1="708.9" x2="708.9" y1="159.2" y2="170.8" stroke="#00F400" stroke-width="1.1"/>
<rect x="703.3" y="161.3" width="11.2" height="7.4" fill="#00BFC4" stroke="#00F400" stroke-width="1.15"/>
<line x1="703.3" x2="714.5" y1="165.0" y2="165.0" stroke="#00F400" stroke-width="1.3"/>
<line x1="707.3" x2="710.5" y1="165.0" y2="165.0" stroke="#444" stroke-opacity="0.55" stroke-width="1.2"/>
<text x="720.0" y="168.5" class="lg">POS</text>
</svg>
</body></html>
